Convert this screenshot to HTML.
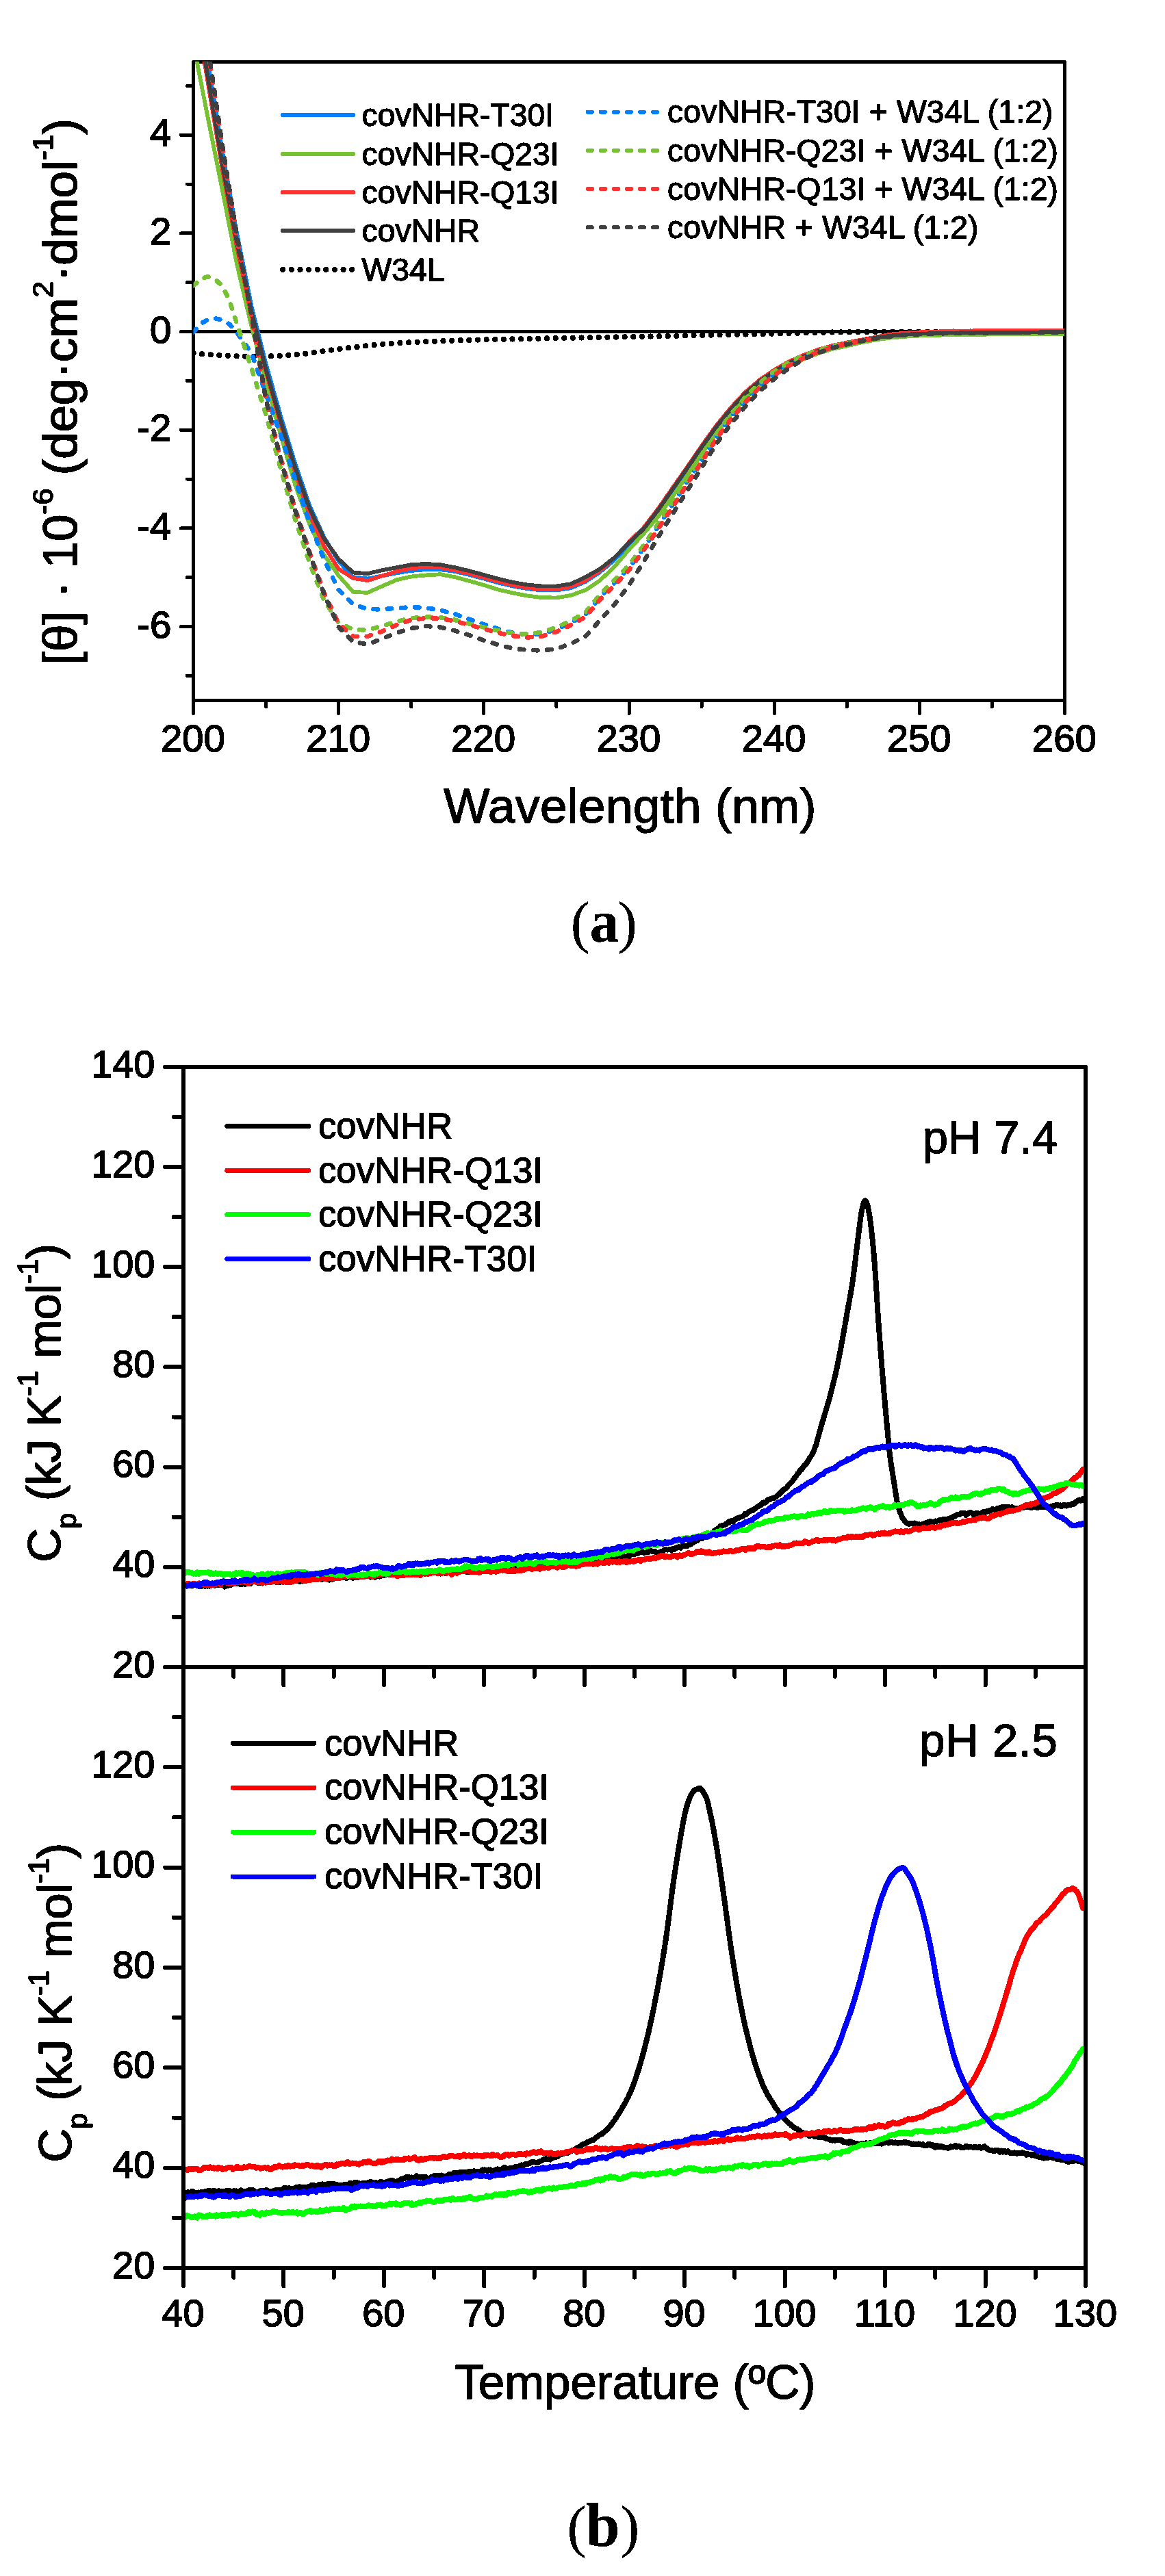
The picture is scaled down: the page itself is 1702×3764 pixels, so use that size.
<!DOCTYPE html>
<html lang="en"><head><meta charset="utf-8"><title>Figure</title>
<style>html,body{margin:0;padding:0;background:#fff}svg{display:block}text{fill:#000}</style>
</head><body>
<svg width="1702" height="3764" viewBox="0 0 1702 3764" shape-rendering="crispEdges">
<rect width="1702" height="3764" fill="#fff"/>
<defs><filter id="hard" x="-5%" y="-5%" width="110%" height="110%" color-interpolation-filters="sRGB"><feComponentTransfer><feFuncA type="discrete" tableValues="0 0 1 1 1"/></feComponentTransfer></filter></defs>
<clipPath id="ca"><rect x="282.5" y="89.8" width="1274.5" height="933.7"/></clipPath>
<rect x="282.5" y="90.4" width="1273.0" height="933.1" fill="none" stroke="#000" stroke-width="5" stroke-linejoin="round"/>
<path d="M282.5 987.4h-9.2M282.5 915.6h-18.2M282.5 843.8h-9.2M282.5 771.9h-18.2M282.5 700.1h-9.2M282.5 628.3h-18.2M282.5 556.4h-9.2M282.5 484.6h-18.2M282.5 412.8h-9.2M282.5 340.9h-18.2M282.5 269.1h-9.2M282.5 197.3h-18.2M282.5 125.5h-9.2M282.5 1023.5v19M388.6 1023.5v9.2M494.7 1023.5v19M600.8 1023.5v9.2M706.8 1023.5v19M812.9 1023.5v9.2M919.0 1023.5v19M1025.1 1023.5v9.2M1131.2 1023.5v19M1237.2 1023.5v9.2M1343.3 1023.5v19M1449.4 1023.5v9.2M1555.5 1023.5v19" stroke="#000" stroke-width="5" stroke-linecap="round" fill="none"/>
<line x1="282.5" y1="484.5" x2="1555.5" y2="484.5" stroke="#000" stroke-width="5"/>
<g clip-path="url(#ca)" fill="none" stroke-linejoin="round">
<path d="M282.5 516.3L303.7 518.0L324.9 519.5L346.1 520.4L367.4 520.7L388.6 520.5L409.8 519.8L431.0 518.3L452.2 516.0L473.4 513.0L494.7 510.0L515.9 507.5L537.1 505.0L558.3 502.9L579.5 501.4L600.8 500.2L622.0 499.2L664.4 497.6L706.8 496.3L791.7 494.5L876.6 493.0L961.4 491.3L1046.3 489.5L1131.2 487.5L1216.0 485.5L1300.9 484.7L1555.5 484.4" stroke="#000" stroke-width="8.2" stroke-linecap="round" stroke-dasharray="0.01 12.62"/>
<path d="M282.5 -31.0L303.7 91.0L324.9 221.0L346.1 341.0L367.4 447.0L388.6 532.0L409.8 607.0L431.0 677.0L452.2 738.5L473.4 785.0L494.7 820.0L515.9 843.2L537.1 845.5L558.3 841.5L579.5 837.2L600.8 833.9L622.0 832.2L643.2 832.2L664.4 834.9L685.6 839.9L706.8 845.5L728.0 851.5L749.3 856.5L770.5 860.2L791.7 862.5L812.9 862.5L834.1 859.2L855.4 849.9L876.6 836.0L897.8 818.0L919.0 796.0L940.2 776.0L961.4 748.5L982.6 718.0L1003.9 687.5L1025.1 656.5L1046.3 627.0L1067.5 601.0L1088.7 578.0L1110.0 560.0L1131.2 545.5L1152.4 533.5L1173.6 524.0L1194.8 516.0L1216.0 510.0L1237.2 505.5L1258.5 497.5L1279.7 493.5L1300.9 490.6L1322.1 488.8L1343.3 487.7L1385.8 486.6L1449.4 485.9L1555.5 485.2" stroke="#0080ff" stroke-width="5.8" stroke-linecap="butt"/>
<path d="M282.5 64.0L303.7 172.0L324.9 278.0L346.1 386.0L367.4 477.0L388.6 558.0L409.8 635.0L431.0 708.0L452.2 766.0L473.4 811.0L494.7 841.0L515.9 864.9L537.1 865.9L558.3 856.5L579.5 847.2L600.8 842.5L622.0 840.5L643.2 839.2L664.4 843.2L685.6 848.9L706.8 854.9L728.0 861.5L749.3 866.5L770.5 870.5L791.7 873.2L812.9 873.5L834.1 869.9L855.4 862.2L876.6 848.0L897.8 828.0L919.0 803.0L940.2 780.0L961.4 755.0L982.6 725.5L1003.9 695.0L1025.1 663.5L1046.3 633.0L1067.5 606.0L1088.7 582.0L1110.0 563.0L1131.2 547.5L1152.4 535.0L1173.6 525.0L1194.8 516.5L1216.0 510.0L1237.2 505.5L1258.5 500.5L1279.7 496.5L1300.9 493.6L1322.1 491.8L1343.3 490.5L1385.8 489.3L1449.4 488.5L1555.5 488.0" stroke="#76c232" stroke-width="5.8" stroke-linecap="butt"/>
<path d="M282.5 -2.0L303.7 120.0L324.9 248.0L346.1 361.0L367.4 461.0L388.6 543.0L409.8 619.0L431.0 690.0L452.2 752.0L473.4 798.0L494.7 831.5L515.9 844.9L537.1 848.2L558.3 841.5L579.5 834.9L600.8 830.5L622.0 828.2L643.2 829.2L664.4 833.2L685.6 838.2L706.8 843.9L728.0 849.9L749.3 855.2L770.5 858.9L791.7 860.9L812.9 860.9L834.1 857.2L855.4 848.2L876.6 834.0L897.8 815.0L919.0 792.0L940.2 771.0L961.4 743.5L982.6 713.0L1003.9 682.5L1025.1 651.5L1046.3 622.0L1067.5 596.0L1088.7 573.0L1110.0 555.0L1131.2 540.5L1152.4 528.5L1173.6 519.0L1194.8 511.0L1216.0 505.0L1237.2 500.5L1258.5 496.5L1279.7 492.5L1300.9 488.6L1322.1 486.6L1343.3 485.4L1385.8 483.9L1449.4 483.0L1555.5 482.6" stroke="#ff3232" stroke-width="5.8" stroke-linecap="butt"/>
<path d="M282.5 -10.0L303.7 112.0L324.9 240.0L346.1 354.0L367.4 456.0L388.6 540.0L409.8 614.0L431.0 683.0L452.2 743.0L473.4 787.0L494.7 817.0L515.9 836.5L537.1 838.2L558.3 833.2L579.5 829.2L600.8 825.2L622.0 823.9L643.2 825.2L664.4 829.2L685.6 834.2L706.8 839.9L728.0 845.9L749.3 850.9L770.5 854.5L791.7 856.5L812.9 856.5L834.1 853.2L855.4 843.2L876.6 831.3L897.8 814.7L919.0 793.0L940.2 773.0L961.4 745.5L982.6 715.0L1003.9 684.5L1025.1 653.5L1046.3 624.0L1067.5 598.0L1088.7 575.0L1110.0 557.0L1131.2 542.5L1152.4 530.5L1173.6 521.0L1194.8 513.0L1216.0 507.0L1237.2 502.5L1258.5 497.5L1279.7 493.5L1300.9 490.6L1322.1 488.8L1343.3 487.7L1385.8 486.6L1449.4 485.9L1555.5 485.2" stroke="#404040" stroke-width="5.8" stroke-linecap="butt"/>
<path d="M282.5 485.9L293.1 473.0L303.7 467.0L314.3 465.3L324.9 467.5L335.5 474.0L346.1 486.0L367.4 516.0L388.6 575.6L409.8 635.0L431.0 700.0L452.2 763.5L473.4 817.5L494.7 862.0L515.9 883.2L537.1 889.8L558.3 890.5L579.5 888.5L600.8 887.2L622.0 888.2L643.2 891.5L664.4 897.2L685.6 904.8L706.8 912.2L728.0 919.1L749.3 924.8L770.5 927.5L791.7 925.8L812.9 919.8L834.1 909.8L855.4 898.2L876.6 872.5L897.8 851.5L919.0 829.5L940.2 801.0L961.4 769.5L982.6 737.5L1003.9 704.0L1025.1 671.5L1046.3 638.3L1067.5 609.5L1088.7 584.5L1110.0 562.9L1131.2 545.6L1152.4 532.1L1173.6 521.6L1194.8 513.2L1216.0 506.7L1237.2 502.2L1258.5 498.5L1279.7 494.5" stroke="#0080ff" stroke-width="6.6" stroke-linecap="round" stroke-dasharray="6.4 13.8"/>
<path d="M282.5 417.6L293.1 408.0L303.7 404.0L314.3 408.0L324.9 418.0L335.5 440.0L346.1 473.0L367.4 538.0L388.6 606.0L409.8 684.0L431.0 758.0L452.2 822.0L473.4 877.0L494.7 909.8L515.9 919.8L537.1 920.5L558.3 914.8L579.5 908.2L600.8 903.2L622.0 901.5L643.2 902.2L664.4 905.8L685.6 911.5L706.8 916.5L728.0 921.5L749.3 925.5L770.5 926.5L791.7 923.8L812.9 916.5L834.1 907.2L855.4 894.8L876.6 868.5L897.8 847.5L919.0 825.5L940.2 797.0L961.4 765.5L982.6 733.5L1003.9 700.0L1025.1 667.5L1046.3 634.3L1067.5 605.5L1088.7 580.5L1110.0 559.4L1131.2 542.6L1152.4 529.6L1173.6 519.6L1194.8 511.7L1216.0 505.7L1237.2 501.7L1258.5 498.5L1279.7 494.5" stroke="#76c232" stroke-width="6.6" stroke-linecap="round" stroke-dasharray="6.4 13.8"/>
<path d="M282.5 -65.0L303.7 71.0L324.9 215.0L346.1 348.0L367.4 463.0L388.6 585.0L409.8 668.0L431.0 743.0L452.2 807.0L473.4 866.0L494.7 911.5L515.9 929.8L537.1 929.8L558.3 922.5L579.5 913.2L600.8 905.8L622.0 903.2L643.2 903.8L664.4 907.5L685.6 913.2L706.8 918.8L728.0 924.8L749.3 929.1L770.5 931.5L791.7 929.8L812.9 923.1L834.1 913.2L855.4 901.5L876.6 876.0L897.8 855.0L919.0 833.0L940.2 804.5L961.4 773.0L982.6 741.0L1003.9 707.5L1025.1 675.0L1046.3 641.8L1067.5 613.0L1088.7 588.0L1110.0 566.0L1131.2 548.2L1152.4 534.3L1173.6 523.4L1194.8 514.5L1216.0 507.6L1237.2 502.6L1258.5 498.5L1279.7 494.5" stroke="#ff3232" stroke-width="6.6" stroke-linecap="round" stroke-dasharray="6.4 13.8"/>
<path d="M282.5 -68.0L303.7 68.0L324.9 212.0L346.1 345.0L367.4 460.0L388.6 584.0L409.8 670.0L431.0 745.0L452.2 809.0L473.4 868.0L494.7 916.0L515.9 938.1L537.1 941.5L558.3 933.1L579.5 924.8L600.8 918.1L622.0 914.8L643.2 916.5L664.4 921.5L685.6 928.1L706.8 935.8L728.0 942.1L749.3 947.5L770.5 949.8L791.7 950.5L812.9 948.1L834.1 940.5L855.4 929.8L876.6 906.3L897.8 883.0L919.0 855.0L940.2 821.0L961.4 785.0L982.6 751.0L1003.9 717.0L1025.1 683.0L1046.3 649.0L1067.5 620.0L1088.7 594.0L1110.0 571.5L1131.2 553.5L1152.4 538.3L1173.6 524.9L1194.8 515.9L1216.0 508.3L1237.2 503.3L1258.5 498.5L1279.7 494.5L1300.9 491.4L1322.1 489.5L1343.3 488.3L1385.8 487.0L1449.4 486.2L1555.5 485.6" stroke="#404040" stroke-width="6.6" stroke-linecap="round" stroke-dasharray="6.4 13.8"/>
</g>
<g filter="url(#hard)" font-family='"Liberation Sans", Arial, sans-serif' font-size="56.3" fill="#000" stroke="#000" stroke-width="1.4">
<text x="250.4" y="213.4" text-anchor="end">4</text>
<text x="250.4" y="357.0" text-anchor="end">2</text>
<text x="250.4" y="500.7" text-anchor="end">0</text>
<text x="250.4" y="644.4" text-anchor="end">-2</text>
<text x="250.4" y="788.0" text-anchor="end">-4</text>
<text x="250.4" y="931.7" text-anchor="end">-6</text>
<text x="281.9" y="1097.6" text-anchor="middle">200</text>
<text x="494.1" y="1097.6" text-anchor="middle">210</text>
<text x="706.2" y="1097.6" text-anchor="middle">220</text>
<text x="918.4" y="1097.6" text-anchor="middle">230</text>
<text x="1130.6" y="1097.6" text-anchor="middle">240</text>
<text x="1342.7" y="1097.6" text-anchor="middle">250</text>
<text x="1554.9" y="1097.6" text-anchor="middle">260</text>
</g>
<text x="648.3" y="1202.4" filter="url(#hard)" font-family='"Liberation Sans", Arial, sans-serif' font-size="71" stroke="#000" stroke-width="1.2" textLength="544" lengthAdjust="spacing" id="xlabA">Wavelength (nm)</text>
<text transform="translate(112.2 971.5) rotate(-90)" filter="url(#hard)" font-family='"Liberation Sans", Arial, sans-serif' font-size="71" stroke="#000" stroke-width="1.2" textLength="798.5" lengthAdjust="spacing" id="ylabA">[θ] · 10<tspan font-size="43" dy="-35">-6</tspan><tspan dy="35"> (deg·cm</tspan><tspan font-size="43" dy="-35">2</tspan><tspan dy="35">·dmol</tspan><tspan font-size="43" dy="-35">-1</tspan><tspan dy="35">)</tspan></text>
<g filter="url(#hard)" font-family='"Liberation Sans", Arial, sans-serif' font-size="46.3" fill="#000" stroke="#000" stroke-width="1.1">
<line x1="413.1" y1="167.9" x2="515.9" y2="167.9" stroke="#0080ff" stroke-width="6.2" stroke-linecap="round" stroke-opacity="1"/>
<text x="528.6" y="183.5">covNHR-T30I</text>
<line x1="413.1" y1="224.9" x2="515.9" y2="224.9" stroke="#76c232" stroke-width="6.2" stroke-linecap="round" stroke-opacity="1"/>
<text x="528.6" y="240.5">covNHR-Q23I</text>
<line x1="413.1" y1="280.9" x2="515.9" y2="280.9" stroke="#ff3232" stroke-width="6.2" stroke-linecap="round" stroke-opacity="1"/>
<text x="528.6" y="296.5">covNHR-Q13I</text>
<line x1="413.1" y1="337.0" x2="515.9" y2="337.0" stroke="#404040" stroke-width="6.2" stroke-linecap="round" stroke-opacity="1"/>
<text x="528.6" y="352.6">covNHR</text>
<line x1="413.2" y1="393.9" x2="515" y2="393.9" stroke="#000" stroke-width="8.4" stroke-linecap="round" stroke-dasharray="0.01 12.62"/>
<text x="528.6" y="409.5">W34L</text>
<line x1="858.9" y1="163.6" x2="962" y2="163.6" stroke="#0080ff" stroke-width="6.2" stroke-linecap="round" stroke-dasharray="5.8 13.25"/>
<text x="975" y="179.3" textLength="563.5" lengthAdjust="spacing" id="l2r0">covNHR-T30I + W34L (1:2)</text>
<line x1="858.9" y1="219.8" x2="962" y2="219.8" stroke="#76c232" stroke-width="6.2" stroke-linecap="round" stroke-dasharray="5.8 13.25"/>
<text x="975" y="235.5" textLength="571" lengthAdjust="spacing" id="l2r1">covNHR-Q23I + W34L (1:2)</text>
<line x1="858.9" y1="276.0" x2="962" y2="276.0" stroke="#ff3232" stroke-width="6.2" stroke-linecap="round" stroke-dasharray="5.8 13.25"/>
<text x="975" y="291.7" textLength="571" lengthAdjust="spacing" id="l2r2">covNHR-Q13I + W34L (1:2)</text>
<line x1="858.9" y1="332.3" x2="962" y2="332.3" stroke="#404040" stroke-width="6.2" stroke-linecap="round" stroke-dasharray="5.8 13.25"/>
<text x="975" y="348.0" textLength="454.5" lengthAdjust="spacing" id="l2r3">covNHR + W34L (1:2)</text>
</g>
<text y="1376.2" filter="url(#hard)" font-family='"Liberation Serif", "Times New Roman", serif' id="capA"><tspan x="833.7" font-size="85" dy="-0.4">(</tspan><tspan x="861.5" font-size="86" dy="0.4" font-weight="bold">a</tspan><tspan x="902.5" font-size="85" dy="-0.4">)</tspan></text>
<clipPath id="cb1"><rect x="268.0" y="1558.9" width="1318.0" height="877.0"/></clipPath>
<clipPath id="cb2"><rect x="268.0" y="2435.9" width="1318.0" height="878.1"/></clipPath>
<g clip-path="url(#cb1)" fill="none" stroke-linejoin="round" stroke-linecap="round" stroke-width="8">
<path d="M268.2 2318.1L269.7 2317.2L271.2 2317.0L272.7 2317.6L274.2 2316.1L275.7 2315.8L277.2 2316.6L278.7 2316.2L280.2 2317.5L281.7 2316.4L283.2 2316.5L284.7 2314.2L286.2 2314.3L287.7 2315.4L289.2 2316.0L290.7 2318.0L292.2 2317.7L293.7 2318.1L295.2 2317.0L296.7 2315.3L298.2 2317.2L299.7 2317.7L301.2 2317.1L302.7 2317.6L304.2 2316.9L305.7 2317.7L307.2 2316.8L308.7 2315.6L310.2 2315.7L311.7 2316.0L313.2 2316.7L314.7 2316.5L316.2 2316.0L317.7 2315.9L319.2 2315.9L320.7 2315.4L322.2 2316.2L323.7 2315.7L325.2 2316.0L326.7 2315.9L328.2 2318.5L329.7 2316.7L331.2 2316.5L332.7 2317.0L334.2 2316.6L335.7 2314.6L337.2 2315.9L338.7 2314.7L340.2 2314.6L341.7 2313.7L343.2 2313.2L344.7 2313.8L346.2 2313.6L347.7 2314.1L349.2 2314.1L350.7 2314.9L352.2 2314.9L353.7 2314.7L355.2 2314.5L356.7 2314.4L358.2 2315.0L359.7 2313.2L361.2 2312.7L362.7 2311.5L364.2 2313.1L365.7 2314.0L367.2 2312.6L368.7 2311.5L370.2 2310.1L371.7 2310.2L373.2 2310.1L374.7 2310.1L376.2 2312.7L377.7 2312.8L379.2 2313.1L380.7 2312.0L382.2 2311.9L383.7 2312.1L385.2 2310.7L386.7 2311.8L388.2 2312.1L389.7 2310.4L391.2 2311.3L392.7 2311.6L394.2 2309.5L395.7 2310.5L397.2 2309.9L398.7 2309.4L400.2 2310.6L401.7 2311.3L403.2 2311.7L404.7 2311.9L406.2 2311.8L407.7 2311.1L409.2 2312.1L410.7 2309.9L412.2 2311.4L413.7 2310.6L415.2 2311.4L416.7 2310.0L418.2 2311.6L419.7 2311.4L421.2 2310.4L422.7 2309.0L424.2 2309.0L425.7 2308.8L427.2 2308.5L428.7 2309.2L430.2 2307.6L431.7 2308.3L433.2 2308.3L434.7 2309.4L436.2 2309.6L437.7 2311.1L439.2 2310.0L440.7 2310.0L442.2 2310.5L443.7 2308.3L445.2 2308.9L446.7 2307.7L448.2 2307.5L449.7 2307.9L451.2 2307.8L452.7 2307.1L454.2 2307.3L455.7 2307.4L457.2 2308.3L458.7 2306.4L460.2 2306.2L461.7 2305.3L463.2 2305.0L464.7 2306.1L466.2 2306.8L467.7 2307.1L469.2 2307.8L470.7 2307.9L472.2 2307.2L473.7 2306.1L475.2 2306.7L476.7 2307.0L478.2 2307.8L479.7 2307.9L481.2 2308.6L482.7 2308.1L484.2 2307.3L485.7 2307.8L487.2 2306.6L488.7 2306.1L490.2 2304.2L491.7 2304.7L493.2 2303.8L494.7 2303.7L496.2 2304.9L497.7 2305.0L499.2 2304.7L500.7 2305.1L502.2 2304.4L503.7 2304.8L505.2 2305.9L506.7 2305.8L508.2 2303.7L509.7 2303.2L511.2 2303.4L512.7 2304.6L514.2 2304.6L515.7 2305.7L517.2 2304.1L518.7 2304.7L520.2 2304.7L521.7 2303.8L523.2 2305.1L524.7 2304.2L526.2 2304.3L527.7 2304.3L529.2 2300.9L530.7 2301.9L532.2 2302.1L533.7 2301.9L535.2 2302.7L536.7 2302.7L538.2 2303.2L539.7 2302.8L541.2 2304.4L542.7 2302.2L544.2 2302.6L545.7 2303.6L547.2 2304.7L548.7 2302.9L550.2 2303.7L551.7 2303.1L553.2 2303.4L554.7 2303.6L556.2 2302.7L557.7 2301.3L559.2 2301.5L560.7 2301.6L562.2 2301.6L563.7 2301.3L565.2 2300.3L566.7 2300.4L568.2 2299.5L569.7 2301.2L571.2 2301.0L572.7 2301.1L574.2 2300.4L575.7 2301.4L577.2 2301.1L578.7 2300.9L580.2 2300.4L581.7 2300.9L583.2 2299.3L584.7 2298.2L586.2 2299.3L587.7 2298.3L589.2 2298.9L590.7 2299.1L592.2 2297.9L593.7 2299.5L595.2 2299.8L596.7 2300.0L598.2 2299.7L599.7 2299.7L601.2 2300.5L602.7 2299.5L604.2 2299.6L605.7 2298.9L607.2 2300.3L608.7 2299.0L610.2 2299.2L611.7 2299.9L613.2 2299.9L614.7 2298.5L616.2 2298.6L617.7 2296.4L619.2 2297.3L620.7 2297.5L622.2 2296.6L623.7 2297.6L625.2 2298.5L626.7 2298.0L628.2 2297.2L629.7 2296.8L631.2 2297.2L632.7 2298.4L634.2 2297.8L635.7 2298.0L637.2 2296.5L638.7 2296.3L640.2 2298.2L641.7 2298.5L643.2 2299.5L644.7 2297.7L646.2 2298.7L647.7 2298.2L649.2 2298.5L650.7 2298.7L652.2 2298.8L653.7 2298.4L655.2 2297.1L656.7 2298.3L658.2 2298.8L659.7 2299.0L661.2 2297.9L662.7 2296.8L664.2 2297.7L665.7 2297.4L667.2 2296.6L668.7 2296.6L670.2 2295.1L671.7 2294.3L673.2 2295.6L674.7 2294.4L676.2 2293.6L677.7 2296.0L679.2 2295.9L680.7 2296.7L682.2 2296.6L683.7 2296.8L685.2 2296.5L686.7 2296.2L688.2 2295.4L689.7 2294.5L691.2 2294.7L692.7 2294.0L694.2 2295.6L695.7 2296.1L697.2 2295.1L698.7 2295.5L700.2 2294.7L701.7 2293.1L703.2 2294.8L704.7 2294.3L706.2 2295.0L707.7 2294.6L709.2 2294.4L710.7 2293.6L712.2 2291.6L713.7 2290.6L715.2 2292.4L716.7 2292.2L718.2 2292.1L719.7 2293.5L721.2 2292.9L722.7 2293.1L724.2 2293.4L725.7 2291.6L727.2 2291.2L728.7 2291.0L730.2 2290.9L731.7 2289.7L733.2 2288.6L734.7 2288.9L736.2 2288.1L737.7 2288.7L739.2 2287.1L740.7 2287.4L742.2 2288.5L743.7 2288.8L745.2 2287.8L746.7 2287.6L748.2 2286.3L749.7 2287.9L751.2 2288.1L752.7 2287.1L754.2 2288.1L755.7 2288.6L757.2 2289.8L758.7 2290.0L760.2 2289.4L761.7 2290.8L763.2 2288.6L764.7 2288.9L766.2 2288.1L767.7 2287.4L769.2 2287.0L770.7 2287.2L772.2 2286.4L773.7 2286.4L775.2 2287.1L776.7 2285.1L778.2 2286.6L779.7 2287.3L781.2 2287.4L782.7 2287.3L784.2 2287.7L785.7 2287.3L787.2 2287.4L788.7 2287.1L790.2 2287.3L791.7 2286.8L793.2 2285.0L794.7 2286.5L796.2 2285.6L797.7 2285.7L799.2 2288.4L800.7 2288.0L802.2 2286.4L803.7 2286.2L805.2 2286.0L806.7 2285.3L808.2 2283.9L809.7 2284.4L811.2 2284.3L812.7 2284.2L814.2 2285.4L815.7 2285.0L817.2 2282.8L818.7 2284.3L820.2 2284.3L821.7 2283.4L823.2 2284.1L824.7 2284.9L826.2 2282.9L827.7 2283.6L829.2 2283.3L830.7 2282.7L832.2 2282.7L833.7 2281.6L835.2 2282.4L836.7 2283.9L838.2 2283.4L839.7 2283.1L841.2 2282.2L842.7 2281.5L844.2 2280.5L845.7 2281.6L847.2 2282.9L848.7 2283.7L850.2 2283.4L851.7 2282.7L853.2 2282.9L854.7 2282.1L856.2 2281.6L857.7 2281.5L859.2 2282.1L860.7 2284.2L862.2 2282.6L863.7 2282.2L865.2 2281.8L866.7 2281.3L868.2 2282.0L869.7 2281.5L871.2 2281.3L872.7 2281.2L874.2 2281.3L875.7 2279.9L877.2 2279.2L878.7 2279.0L880.2 2279.5L881.7 2278.9L883.2 2278.8L884.7 2278.6L886.2 2279.3L887.7 2277.5L889.2 2277.5L890.7 2276.9L892.2 2275.7L893.7 2275.3L895.2 2275.3L896.7 2274.3L898.2 2274.9L899.7 2274.5L901.2 2275.1L902.7 2275.0L904.2 2275.2L905.7 2275.1L907.2 2274.6L908.7 2274.6L910.2 2274.5L911.7 2274.1L913.2 2274.9L914.7 2274.4L916.2 2274.2L917.7 2273.0L919.2 2274.0L920.7 2272.2L922.2 2271.3L923.7 2270.4L925.2 2270.7L926.7 2271.5L928.2 2270.5L929.7 2269.9L931.2 2270.0L932.7 2268.9L934.2 2268.5L935.7 2267.9L937.2 2266.5L938.7 2268.4L940.2 2268.8L941.7 2268.6L943.2 2268.5L944.7 2267.6L946.2 2268.4L947.7 2267.6L949.2 2266.1L950.7 2265.7L952.2 2266.7L953.7 2266.6L955.2 2267.2L956.7 2266.8L958.2 2267.9L959.7 2268.6L961.2 2268.6L962.7 2268.4L964.2 2267.9L965.7 2266.9L967.2 2267.4L968.7 2266.0L970.2 2264.5L971.7 2264.1L973.2 2264.1L974.7 2264.5L976.2 2264.5L977.7 2264.0L979.2 2264.3L980.7 2265.1L982.2 2263.3L983.7 2264.3L985.2 2263.9L986.7 2262.0L988.2 2261.8L989.7 2260.8L991.2 2260.2L992.7 2261.4L994.2 2261.8L995.7 2260.3L997.2 2259.0L998.7 2258.1L1000.2 2259.2L1001.7 2259.2L1003.2 2259.4L1004.7 2258.5L1006.2 2256.5L1007.7 2256.9L1009.2 2256.6L1010.7 2254.7L1012.2 2254.6L1013.7 2253.3L1015.2 2252.2L1016.7 2251.6L1018.2 2251.5L1019.7 2250.4L1021.2 2248.6L1022.7 2247.7L1024.2 2246.9L1025.7 2248.1L1027.2 2246.9L1028.7 2246.3L1030.2 2245.6L1031.7 2245.1L1033.2 2244.7L1034.7 2244.3L1036.2 2243.3L1037.7 2242.2L1039.2 2241.0L1040.7 2239.8L1042.2 2239.0L1043.7 2236.6L1045.2 2235.7L1046.7 2234.6L1048.2 2234.0L1049.7 2232.6L1051.2 2231.6L1052.7 2229.8L1054.2 2229.6L1055.7 2228.6L1057.2 2228.6L1058.7 2228.1L1060.2 2227.3L1061.7 2225.9L1063.2 2225.3L1064.7 2223.5L1066.2 2223.2L1067.7 2223.6L1069.2 2222.1L1070.7 2223.3L1072.2 2222.1L1073.7 2220.2L1075.2 2220.0L1076.7 2218.6L1078.2 2217.9L1079.7 2217.8L1081.2 2216.6L1082.7 2216.5L1084.2 2215.6L1085.7 2215.5L1087.2 2214.2L1088.7 2211.8L1090.2 2212.9L1091.7 2211.5L1093.2 2210.0L1094.7 2208.6L1096.2 2208.0L1097.7 2207.0L1099.2 2206.4L1100.7 2206.7L1102.2 2205.0L1103.7 2204.1L1105.2 2203.2L1106.7 2201.6L1108.2 2201.2L1109.7 2199.8L1111.2 2199.3L1112.7 2197.7L1114.2 2196.0L1115.7 2195.5L1117.2 2195.7L1118.7 2195.4L1120.2 2193.6L1121.7 2191.3L1123.2 2191.0L1124.7 2191.3L1126.2 2189.8L1127.7 2189.5L1129.2 2189.2L1130.7 2189.0L1132.2 2188.2L1133.7 2187.1L1135.2 2186.2L1136.7 2184.0L1138.2 2183.5L1139.7 2181.9L1141.2 2180.1L1142.7 2179.0L1144.2 2176.9L1145.7 2176.1L1147.2 2175.6L1148.7 2174.4L1150.2 2172.4L1151.7 2170.6L1153.2 2169.1L1154.7 2167.6L1156.2 2166.0L1157.7 2164.2L1159.2 2162.1L1160.7 2159.9L1162.2 2158.0L1163.7 2156.1L1165.2 2153.4L1166.7 2152.4L1168.2 2149.4L1169.7 2147.8L1171.2 2147.3L1172.7 2144.7L1174.2 2142.3L1175.7 2140.8L1177.2 2139.6L1178.7 2137.6L1180.2 2135.1L1181.7 2132.6L1183.2 2130.1L1184.7 2127.9L1186.2 2125.9L1187.7 2122.3L1189.2 2119.3L1190.7 2115.1L1192.2 2111.2L1193.7 2105.9L1195.2 2100.4L1196.7 2094.6L1198.2 2089.3L1199.7 2084.0L1201.2 2078.6L1202.7 2074.4L1204.2 2068.9L1205.7 2064.0L1207.2 2058.7L1208.7 2053.5L1210.2 2049.0L1211.7 2043.5L1213.2 2037.7L1214.7 2031.9L1216.2 2026.2L1217.7 2020.1L1219.2 2013.7L1220.7 2007.2L1222.2 2000.9L1223.7 1993.9L1225.2 1986.4L1226.7 1978.5L1228.2 1970.8L1229.7 1962.8L1231.2 1954.5L1232.7 1946.5L1234.2 1937.8L1235.7 1929.2L1237.2 1920.6L1238.7 1912.3L1240.2 1904.0L1241.7 1896.0L1243.2 1887.6L1244.7 1878.6L1246.2 1868.5L1247.7 1856.9L1249.2 1845.0L1250.7 1832.5L1252.2 1820.0L1253.7 1807.9L1255.2 1796.0L1256.7 1783.8L1258.2 1773.2L1259.7 1765.8L1261.2 1759.5L1262.7 1754.8L1264.2 1754.4L1265.7 1755.9L1267.2 1760.5L1268.7 1767.3L1270.2 1774.8L1271.7 1785.5L1273.2 1798.2L1274.7 1811.9L1276.2 1827.8L1277.7 1845.5L1279.2 1866.0L1280.7 1890.0L1282.2 1914.1L1283.7 1935.6L1285.2 1956.1L1286.7 1975.9L1288.2 1995.0L1289.7 2013.2L1291.2 2031.1L1292.7 2048.3L1294.2 2065.0L1295.7 2081.4L1297.2 2097.7L1298.7 2113.9L1300.2 2127.4L1301.7 2138.4L1303.2 2148.0L1304.7 2157.2L1306.2 2166.4L1307.7 2176.1L1309.2 2185.9L1310.7 2194.6L1312.2 2200.6L1313.7 2205.7L1315.2 2210.5L1316.7 2214.1L1318.2 2217.6L1319.7 2219.8L1321.2 2221.3L1322.7 2223.7L1324.2 2225.1L1325.7 2225.8L1327.2 2226.9L1328.7 2226.6L1330.2 2225.7L1331.7 2226.0L1333.2 2226.3L1334.7 2226.9L1336.2 2225.5L1337.7 2226.2L1339.2 2227.2L1340.7 2227.4L1342.2 2227.8L1343.7 2227.5L1345.2 2227.6L1346.7 2227.4L1348.2 2227.2L1349.7 2227.6L1351.2 2226.6L1352.7 2224.9L1354.2 2225.0L1355.7 2224.1L1357.2 2224.5L1358.7 2223.2L1360.2 2223.3L1361.7 2225.6L1363.2 2224.9L1364.7 2223.9L1366.2 2222.5L1367.7 2223.4L1369.2 2222.5L1370.7 2222.1L1372.2 2221.1L1373.7 2221.4L1375.2 2220.6L1376.7 2220.5L1378.2 2220.4L1379.7 2220.7L1381.2 2220.1L1382.7 2219.8L1384.2 2219.5L1385.7 2219.1L1387.2 2218.8L1388.7 2218.3L1390.2 2218.5L1391.7 2216.4L1393.2 2215.8L1394.7 2215.7L1396.2 2214.2L1397.7 2213.7L1399.2 2212.5L1400.7 2212.6L1402.2 2213.1L1403.7 2211.1L1405.2 2211.4L1406.7 2211.4L1408.2 2210.9L1409.7 2211.4L1411.2 2213.8L1412.7 2212.0L1414.2 2211.9L1415.7 2210.6L1417.2 2210.0L1418.7 2210.3L1420.2 2211.2L1421.7 2212.0L1423.2 2213.8L1424.7 2213.4L1426.2 2211.1L1427.7 2212.0L1429.2 2211.4L1430.7 2211.9L1432.2 2212.4L1433.7 2211.1L1435.2 2210.1L1436.7 2209.0L1438.2 2209.4L1439.7 2209.9L1441.2 2208.2L1442.7 2208.4L1444.2 2207.9L1445.7 2207.0L1447.2 2206.9L1448.7 2206.3L1450.2 2205.1L1451.7 2205.9L1453.2 2206.4L1454.7 2206.1L1456.2 2204.6L1457.7 2203.8L1459.2 2204.6L1460.7 2203.0L1462.2 2202.5L1463.7 2202.0L1465.2 2203.5L1466.7 2201.8L1468.2 2202.6L1469.7 2203.1L1471.2 2201.9L1472.7 2202.0L1474.2 2202.2L1475.7 2203.3L1477.2 2202.7L1478.7 2202.2L1480.2 2203.3L1481.7 2203.5L1483.2 2203.5L1484.7 2204.2L1486.2 2204.2L1487.7 2204.0L1489.2 2203.5L1490.7 2203.0L1492.2 2202.5L1493.7 2202.5L1495.2 2203.0L1496.7 2202.4L1498.2 2202.2L1499.7 2202.5L1501.2 2202.0L1502.7 2201.9L1504.2 2202.1L1505.7 2202.9L1507.2 2203.1L1508.7 2202.1L1510.2 2201.5L1511.7 2201.2L1513.2 2202.5L1514.7 2202.9L1516.2 2202.9L1517.7 2201.1L1519.2 2201.2L1520.7 2201.8L1522.2 2202.3L1523.7 2202.2L1525.2 2202.2L1526.7 2201.5L1528.2 2200.4L1529.7 2201.9L1531.2 2201.5L1532.7 2201.5L1534.2 2202.1L1535.7 2201.1L1537.2 2201.6L1538.7 2200.2L1540.2 2201.0L1541.7 2199.8L1543.2 2199.1L1544.7 2198.8L1546.2 2200.3L1547.7 2199.8L1549.2 2199.4L1550.7 2201.2L1552.2 2199.8L1553.7 2199.1L1555.2 2199.6L1556.7 2199.5L1558.2 2200.5L1559.7 2198.9L1561.2 2199.2L1562.7 2198.6L1564.2 2199.0L1565.7 2197.4L1567.2 2197.5L1568.7 2197.7L1570.2 2196.2L1571.7 2194.7L1573.2 2193.5L1574.7 2192.4L1576.2 2192.7L1577.7 2191.5L1579.2 2192.7L1580.7 2192.3L1582.2 2190.3" stroke="#000"/>
<path d="M268.2 2316.5L269.7 2314.7L271.2 2314.6L272.7 2314.5L274.2 2315.2L275.7 2313.7L277.2 2314.3L278.7 2314.9L280.2 2314.7L281.7 2313.9L283.2 2313.5L284.7 2314.5L286.2 2315.4L287.7 2315.8L289.2 2315.5L290.7 2313.5L292.2 2314.8L293.7 2315.0L295.2 2314.6L296.7 2315.2L298.2 2315.4L299.7 2316.3L301.2 2315.8L302.7 2316.1L304.2 2315.0L305.7 2315.8L307.2 2315.3L308.7 2316.9L310.2 2315.6L311.7 2316.2L313.2 2315.3L314.7 2315.2L316.2 2313.1L317.7 2314.0L319.2 2313.7L320.7 2313.3L322.2 2315.5L323.7 2313.1L325.2 2312.4L326.7 2311.0L328.2 2312.4L329.7 2311.1L331.2 2311.1L332.7 2313.2L334.2 2313.7L335.7 2313.8L337.2 2313.6L338.7 2312.7L340.2 2314.1L341.7 2314.1L343.2 2312.0L344.7 2312.6L346.2 2311.1L347.7 2312.4L349.2 2311.1L350.7 2312.1L352.2 2311.7L353.7 2310.3L355.2 2310.3L356.7 2310.9L358.2 2311.9L359.7 2311.8L361.2 2313.1L362.7 2314.3L364.2 2312.3L365.7 2311.0L367.2 2310.6L368.7 2310.8L370.2 2311.5L371.7 2310.9L373.2 2311.5L374.7 2311.6L376.2 2311.9L377.7 2312.0L379.2 2311.8L380.7 2310.3L382.2 2311.8L383.7 2313.4L385.2 2311.6L386.7 2311.8L388.2 2312.7L389.7 2312.0L391.2 2312.3L392.7 2311.9L394.2 2312.1L395.7 2312.2L397.2 2310.5L398.7 2308.9L400.2 2309.7L401.7 2310.2L403.2 2310.8L404.7 2311.3L406.2 2310.3L407.7 2310.2L409.2 2309.6L410.7 2309.4L412.2 2309.3L413.7 2311.6L415.2 2310.3L416.7 2311.2L418.2 2311.9L419.7 2311.9L421.2 2312.2L422.7 2311.5L424.2 2311.9L425.7 2311.5L427.2 2311.5L428.7 2310.4L430.2 2309.9L431.7 2309.2L433.2 2310.0L434.7 2308.4L436.2 2308.0L437.7 2307.5L439.2 2306.3L440.7 2308.0L442.2 2309.3L443.7 2309.6L445.2 2309.8L446.7 2310.3L448.2 2309.7L449.7 2307.7L451.2 2308.2L452.7 2309.4L454.2 2308.7L455.7 2307.9L457.2 2307.1L458.7 2307.4L460.2 2307.9L461.7 2307.0L463.2 2308.3L464.7 2307.1L466.2 2307.0L467.7 2306.6L469.2 2305.4L470.7 2306.0L472.2 2305.6L473.7 2306.4L475.2 2307.1L476.7 2307.5L478.2 2306.4L479.7 2305.6L481.2 2305.1L482.7 2306.3L484.2 2306.8L485.7 2306.6L487.2 2305.9L488.7 2306.5L490.2 2305.9L491.7 2304.7L493.2 2305.7L494.7 2305.6L496.2 2305.9L497.7 2304.2L499.2 2303.8L500.7 2303.1L502.2 2301.5L503.7 2303.6L505.2 2304.1L506.7 2302.4L508.2 2302.6L509.7 2302.8L511.2 2302.7L512.7 2303.5L514.2 2303.1L515.7 2302.1L517.2 2302.9L518.7 2303.0L520.2 2302.5L521.7 2304.2L523.2 2303.1L524.7 2302.5L526.2 2303.1L527.7 2304.2L529.2 2303.4L530.7 2303.7L532.2 2303.8L533.7 2302.9L535.2 2303.1L536.7 2303.1L538.2 2301.6L539.7 2301.8L541.2 2302.0L542.7 2302.8L544.2 2302.1L545.7 2303.7L547.2 2301.9L548.7 2301.6L550.2 2302.2L551.7 2301.9L553.2 2300.7L554.7 2300.6L556.2 2300.4L557.7 2300.6L559.2 2300.5L560.7 2300.0L562.2 2300.1L563.7 2300.2L565.2 2300.1L566.7 2300.4L568.2 2300.8L569.7 2299.6L571.2 2299.9L572.7 2299.7L574.2 2301.2L575.7 2300.5L577.2 2301.0L578.7 2301.9L580.2 2303.2L581.7 2302.7L583.2 2302.5L584.7 2301.6L586.2 2301.3L587.7 2302.0L589.2 2301.5L590.7 2301.6L592.2 2301.0L593.7 2300.0L595.2 2299.6L596.7 2301.3L598.2 2300.4L599.7 2301.2L601.2 2300.7L602.7 2300.6L604.2 2300.2L605.7 2301.0L607.2 2300.9L608.7 2299.9L610.2 2300.7L611.7 2300.4L613.2 2301.8L614.7 2301.7L616.2 2299.6L617.7 2298.4L619.2 2299.4L620.7 2300.0L622.2 2298.8L623.7 2299.1L625.2 2299.8L626.7 2299.5L628.2 2298.9L629.7 2298.8L631.2 2298.0L632.7 2297.2L634.2 2296.9L635.7 2297.2L637.2 2298.2L638.7 2298.8L640.2 2299.2L641.7 2297.8L643.2 2298.3L644.7 2299.0L646.2 2297.8L647.7 2297.0L649.2 2296.8L650.7 2297.8L652.2 2298.8L653.7 2298.3L655.2 2297.7L656.7 2298.2L658.2 2297.3L659.7 2300.9L661.2 2299.1L662.7 2297.6L664.2 2297.3L665.7 2297.2L667.2 2298.6L668.7 2296.9L670.2 2297.3L671.7 2296.2L673.2 2296.3L674.7 2296.5L676.2 2295.6L677.7 2295.5L679.2 2295.7L680.7 2295.0L682.2 2295.4L683.7 2295.0L685.2 2295.6L686.7 2296.0L688.2 2297.2L689.7 2297.0L691.2 2295.3L692.7 2296.4L694.2 2296.9L695.7 2297.0L697.2 2296.7L698.7 2296.1L700.2 2297.9L701.7 2296.8L703.2 2296.6L704.7 2296.1L706.2 2295.8L707.7 2296.4L709.2 2295.4L710.7 2295.6L712.2 2295.9L713.7 2295.9L715.2 2295.5L716.7 2297.1L718.2 2296.5L719.7 2295.0L721.2 2296.1L722.7 2296.1L724.2 2296.8L725.7 2296.5L727.2 2296.2L728.7 2295.0L730.2 2294.0L731.7 2293.7L733.2 2294.6L734.7 2294.6L736.2 2294.0L737.7 2293.8L739.2 2295.0L740.7 2295.3L742.2 2296.4L743.7 2295.2L745.2 2295.8L746.7 2294.9L748.2 2295.7L749.7 2293.9L751.2 2296.0L752.7 2295.7L754.2 2294.7L755.7 2294.4L757.2 2295.2L758.7 2294.3L760.2 2294.9L761.7 2294.8L763.2 2293.0L764.7 2294.0L766.2 2293.4L767.7 2292.2L769.2 2292.2L770.7 2292.5L772.2 2292.3L773.7 2292.4L775.2 2292.4L776.7 2293.1L778.2 2291.2L779.7 2291.5L781.2 2291.7L782.7 2292.4L784.2 2290.8L785.7 2291.6L787.2 2290.8L788.7 2292.8L790.2 2290.9L791.7 2291.4L793.2 2291.4L794.7 2291.4L796.2 2290.0L797.7 2290.1L799.2 2289.8L800.7 2291.0L802.2 2290.0L803.7 2289.7L805.2 2288.6L806.7 2289.5L808.2 2289.3L809.7 2288.9L811.2 2289.4L812.7 2288.8L814.2 2290.7L815.7 2289.7L817.2 2289.2L818.7 2289.4L820.2 2289.1L821.7 2290.1L823.2 2290.3L824.7 2289.4L826.2 2289.2L827.7 2288.3L829.2 2286.8L830.7 2287.0L832.2 2286.6L833.7 2287.8L835.2 2286.6L836.7 2288.1L838.2 2287.4L839.7 2288.1L841.2 2288.8L842.7 2288.1L844.2 2288.5L845.7 2288.4L847.2 2287.2L848.7 2286.2L850.2 2286.0L851.7 2286.4L853.2 2285.2L854.7 2285.1L856.2 2285.2L857.7 2285.1L859.2 2284.8L860.7 2284.6L862.2 2284.7L863.7 2283.8L865.2 2284.4L866.7 2285.7L868.2 2284.6L869.7 2285.3L871.2 2284.9L872.7 2285.6L874.2 2284.4L875.7 2282.8L877.2 2282.0L878.7 2283.0L880.2 2283.3L881.7 2284.2L883.2 2283.9L884.7 2283.3L886.2 2282.1L887.7 2282.9L889.2 2283.7L890.7 2281.4L892.2 2282.1L893.7 2282.1L895.2 2282.6L896.7 2281.7L898.2 2282.4L899.7 2282.4L901.2 2282.9L902.7 2282.3L904.2 2281.2L905.7 2282.8L907.2 2282.4L908.7 2281.9L910.2 2282.2L911.7 2280.8L913.2 2281.6L914.7 2283.0L916.2 2280.8L917.7 2282.0L919.2 2282.5L920.7 2281.8L922.2 2281.4L923.7 2281.0L925.2 2281.9L926.7 2280.0L928.2 2280.8L929.7 2280.2L931.2 2280.3L932.7 2279.1L934.2 2279.2L935.7 2281.1L937.2 2279.1L938.7 2278.9L940.2 2278.7L941.7 2278.7L943.2 2278.1L944.7 2277.4L946.2 2276.7L947.7 2278.0L949.2 2277.0L950.7 2277.8L952.2 2276.6L953.7 2276.7L955.2 2276.1L956.7 2276.5L958.2 2276.8L959.7 2276.0L961.2 2276.3L962.7 2274.6L964.2 2273.8L965.7 2273.2L967.2 2274.1L968.7 2272.9L970.2 2272.8L971.7 2275.2L973.2 2274.4L974.7 2274.4L976.2 2274.7L977.7 2274.6L979.2 2274.5L980.7 2274.7L982.2 2273.0L983.7 2273.8L985.2 2273.4L986.7 2272.8L988.2 2273.6L989.7 2275.4L991.2 2273.1L992.7 2272.4L994.2 2272.9L995.7 2274.1L997.2 2273.0L998.7 2272.2L1000.2 2271.7L1001.7 2271.4L1003.2 2270.7L1004.7 2269.4L1006.2 2269.2L1007.7 2269.8L1009.2 2270.9L1010.7 2271.2L1012.2 2270.0L1013.7 2269.6L1015.2 2269.4L1016.7 2268.8L1018.2 2267.1L1019.7 2268.2L1021.2 2267.2L1022.7 2267.8L1024.2 2266.3L1025.7 2267.8L1027.2 2266.9L1028.7 2267.7L1030.2 2268.9L1031.7 2268.4L1033.2 2268.7L1034.7 2269.3L1036.2 2267.4L1037.7 2268.6L1039.2 2269.7L1040.7 2270.3L1042.2 2269.2L1043.7 2269.5L1045.2 2269.0L1046.7 2268.6L1048.2 2268.5L1049.7 2268.3L1051.2 2268.6L1052.7 2267.7L1054.2 2268.0L1055.7 2267.4L1057.2 2266.4L1058.7 2266.8L1060.2 2267.0L1061.7 2266.6L1063.2 2267.1L1064.7 2266.8L1066.2 2266.1L1067.7 2265.6L1069.2 2266.6L1070.7 2266.9L1072.2 2266.6L1073.7 2266.2L1075.2 2266.0L1076.7 2264.6L1078.2 2265.0L1079.7 2265.6L1081.2 2264.5L1082.7 2263.3L1084.2 2263.2L1085.7 2262.9L1087.2 2264.2L1088.7 2264.9L1090.2 2262.6L1091.7 2262.4L1093.2 2262.9L1094.7 2262.3L1096.2 2262.1L1097.7 2263.3L1099.2 2262.1L1100.7 2263.2L1102.2 2262.8L1103.7 2260.1L1105.2 2260.7L1106.7 2258.7L1108.2 2259.1L1109.7 2259.5L1111.2 2260.6L1112.7 2260.4L1114.2 2259.6L1115.7 2259.9L1117.2 2260.2L1118.7 2260.9L1120.2 2260.6L1121.7 2261.0L1123.2 2260.0L1124.7 2260.4L1126.2 2261.1L1127.7 2259.4L1129.2 2258.6L1130.7 2258.6L1132.2 2258.3L1133.7 2257.9L1135.2 2258.7L1136.7 2259.1L1138.2 2258.1L1139.7 2257.3L1141.2 2259.3L1142.7 2259.8L1144.2 2259.1L1145.7 2260.0L1147.2 2259.0L1148.7 2258.8L1150.2 2258.8L1151.7 2258.5L1153.2 2258.7L1154.7 2257.7L1156.2 2257.7L1157.7 2256.4L1159.2 2256.2L1160.7 2254.7L1162.2 2254.8L1163.7 2254.5L1165.2 2255.4L1166.7 2255.3L1168.2 2254.9L1169.7 2254.9L1171.2 2254.9L1172.7 2255.1L1174.2 2254.3L1175.7 2252.2L1177.2 2252.6L1178.7 2253.6L1180.2 2253.7L1181.7 2255.3L1183.2 2253.5L1184.7 2253.5L1186.2 2252.9L1187.7 2251.6L1189.2 2252.0L1190.7 2251.4L1192.2 2250.4L1193.7 2250.0L1195.2 2251.8L1196.7 2251.7L1198.2 2251.1L1199.7 2251.1L1201.2 2251.4L1202.7 2250.7L1204.2 2250.0L1205.7 2250.8L1207.2 2249.8L1208.7 2250.6L1210.2 2250.0L1211.7 2250.2L1213.2 2250.1L1214.7 2249.8L1216.2 2251.2L1217.7 2249.9L1219.2 2251.2L1220.7 2251.6L1222.2 2250.5L1223.7 2249.4L1225.2 2249.4L1226.7 2249.5L1228.2 2248.6L1229.7 2248.1L1231.2 2247.2L1232.7 2246.7L1234.2 2247.0L1235.7 2247.1L1237.2 2247.3L1238.7 2245.0L1240.2 2246.0L1241.7 2245.7L1243.2 2246.5L1244.7 2244.8L1246.2 2245.9L1247.7 2246.1L1249.2 2246.0L1250.7 2244.9L1252.2 2246.4L1253.7 2245.7L1255.2 2245.3L1256.7 2246.4L1258.2 2245.0L1259.7 2246.0L1261.2 2245.3L1262.7 2243.5L1264.2 2242.9L1265.7 2243.5L1267.2 2242.8L1268.7 2242.6L1270.2 2242.4L1271.7 2242.5L1273.2 2242.1L1274.7 2243.6L1276.2 2242.9L1277.7 2243.4L1279.2 2241.8L1280.7 2241.6L1282.2 2240.7L1283.7 2240.4L1285.2 2242.0L1286.7 2240.3L1288.2 2240.6L1289.7 2240.3L1291.2 2240.9L1292.7 2239.6L1294.2 2241.3L1295.7 2241.5L1297.2 2241.2L1298.7 2240.3L1300.2 2241.1L1301.7 2239.3L1303.2 2239.2L1304.7 2238.8L1306.2 2237.8L1307.7 2237.4L1309.2 2237.7L1310.7 2238.3L1312.2 2237.9L1313.7 2238.6L1315.2 2238.7L1316.7 2237.3L1318.2 2238.4L1319.7 2239.2L1321.2 2238.2L1322.7 2237.3L1324.2 2236.5L1325.7 2237.2L1327.2 2237.9L1328.7 2237.5L1330.2 2236.7L1331.7 2236.5L1333.2 2235.6L1334.7 2234.4L1336.2 2233.8L1337.7 2234.3L1339.2 2233.4L1340.7 2233.8L1342.2 2235.4L1343.7 2233.9L1345.2 2234.1L1346.7 2233.1L1348.2 2232.4L1349.7 2233.1L1351.2 2232.4L1352.7 2232.7L1354.2 2233.1L1355.7 2232.8L1357.2 2232.2L1358.7 2232.8L1360.2 2231.2L1361.7 2230.8L1363.2 2231.6L1364.7 2231.6L1366.2 2232.9L1367.7 2231.4L1369.2 2231.4L1370.7 2231.0L1372.2 2230.5L1373.7 2231.2L1375.2 2229.2L1376.7 2229.0L1378.2 2228.2L1379.7 2228.1L1381.2 2228.6L1382.7 2228.0L1384.2 2227.8L1385.7 2227.1L1387.2 2226.4L1388.7 2226.7L1390.2 2225.2L1391.7 2225.1L1393.2 2225.6L1394.7 2225.3L1396.2 2225.2L1397.7 2226.0L1399.2 2225.4L1400.7 2225.8L1402.2 2225.4L1403.7 2225.2L1405.2 2224.4L1406.7 2223.0L1408.2 2223.4L1409.7 2223.7L1411.2 2223.4L1412.7 2222.9L1414.2 2221.7L1415.7 2222.1L1417.2 2221.7L1418.7 2221.8L1420.2 2221.4L1421.7 2221.0L1423.2 2220.9L1424.7 2221.4L1426.2 2219.9L1427.7 2219.0L1429.2 2219.0L1430.7 2217.9L1432.2 2218.1L1433.7 2218.6L1435.2 2217.2L1436.7 2216.9L1438.2 2218.4L1439.7 2218.1L1441.2 2218.6L1442.7 2219.2L1444.2 2218.9L1445.7 2218.1L1447.2 2216.5L1448.7 2214.8L1450.2 2214.5L1451.7 2214.7L1453.2 2214.6L1454.7 2213.6L1456.2 2213.0L1457.7 2212.5L1459.2 2212.0L1460.7 2213.0L1462.2 2211.6L1463.7 2211.3L1465.2 2211.1L1466.7 2210.4L1468.2 2210.1L1469.7 2208.9L1471.2 2208.2L1472.7 2208.6L1474.2 2207.2L1475.7 2208.4L1477.2 2207.4L1478.7 2206.8L1480.2 2207.7L1481.7 2206.9L1483.2 2206.6L1484.7 2206.3L1486.2 2206.0L1487.7 2204.9L1489.2 2204.9L1490.7 2203.6L1492.2 2202.6L1493.7 2201.6L1495.2 2201.4L1496.7 2200.9L1498.2 2199.2L1499.7 2199.1L1501.2 2198.5L1502.7 2199.2L1504.2 2199.5L1505.7 2197.5L1507.2 2197.8L1508.7 2197.0L1510.2 2196.8L1511.7 2196.7L1513.2 2195.7L1514.7 2195.0L1516.2 2194.7L1517.7 2193.1L1519.2 2192.5L1520.7 2192.2L1522.2 2190.6L1523.7 2190.2L1525.2 2188.6L1526.7 2188.6L1528.2 2188.3L1529.7 2187.8L1531.2 2187.0L1532.7 2186.9L1534.2 2186.2L1535.7 2184.9L1537.2 2183.5L1538.7 2182.6L1540.2 2182.0L1541.7 2182.2L1543.2 2181.6L1544.7 2179.9L1546.2 2179.7L1547.7 2178.9L1549.2 2177.5L1550.7 2176.6L1552.2 2175.6L1553.7 2173.8L1555.2 2172.3L1556.7 2170.7L1558.2 2170.0L1559.7 2168.0L1561.2 2167.7L1562.7 2166.2L1564.2 2165.3L1565.7 2163.5L1567.2 2162.1L1568.7 2161.2L1570.2 2158.6L1571.7 2159.3L1573.2 2158.0L1574.7 2155.8L1576.2 2155.6L1577.7 2153.1L1579.2 2151.1L1580.7 2149.2L1582.2 2147.1" stroke="#f00"/>
<path d="M268.2 2299.6L269.7 2299.3L271.2 2296.7L272.7 2297.0L274.2 2296.7L275.7 2296.6L277.2 2298.4L278.7 2298.3L280.2 2298.1L281.7 2299.3L283.2 2299.7L284.7 2298.6L286.2 2299.7L287.7 2297.5L289.2 2298.9L290.7 2299.7L292.2 2297.6L293.7 2297.7L295.2 2297.9L296.7 2298.2L298.2 2298.4L299.7 2298.2L301.2 2298.4L302.7 2298.0L304.2 2297.3L305.7 2298.5L307.2 2299.6L308.7 2298.3L310.2 2299.3L311.7 2300.3L313.2 2299.3L314.7 2298.4L316.2 2298.6L317.7 2300.0L319.2 2298.6L320.7 2298.9L322.2 2299.7L323.7 2299.3L325.2 2300.3L326.7 2301.5L328.2 2300.6L329.7 2299.7L331.2 2300.0L332.7 2299.6L334.2 2299.7L335.7 2299.9L337.2 2301.3L338.7 2301.9L340.2 2300.4L341.7 2300.7L343.2 2300.1L344.7 2298.2L346.2 2300.0L347.7 2298.4L349.2 2298.7L350.7 2298.4L352.2 2299.6L353.7 2298.0L355.2 2301.6L356.7 2300.5L358.2 2300.7L359.7 2299.4L361.2 2300.0L362.7 2299.2L364.2 2299.7L365.7 2300.3L367.2 2302.4L368.7 2300.8L370.2 2303.2L371.7 2303.4L373.2 2304.4L374.7 2303.1L376.2 2300.9L377.7 2301.9L379.2 2300.8L380.7 2300.5L382.2 2299.6L383.7 2300.0L385.2 2301.5L386.7 2300.9L388.2 2301.7L389.7 2300.4L391.2 2299.2L392.7 2300.6L394.2 2300.8L395.7 2298.9L397.2 2300.3L398.7 2300.4L400.2 2300.7L401.7 2301.0L403.2 2300.3L404.7 2299.1L406.2 2301.3L407.7 2300.5L409.2 2300.0L410.7 2303.5L412.2 2300.8L413.7 2300.2L415.2 2299.3L416.7 2298.5L418.2 2299.4L419.7 2297.9L421.2 2298.0L422.7 2298.1L424.2 2298.8L425.7 2297.4L427.2 2298.0L428.7 2299.0L430.2 2297.6L431.7 2297.2L433.2 2298.3L434.7 2296.9L436.2 2297.2L437.7 2297.8L439.2 2296.8L440.7 2296.6L442.2 2296.7L443.7 2297.3L445.2 2297.2L446.7 2298.6L448.2 2298.4L449.7 2299.0L451.2 2300.0L452.7 2299.8L454.2 2300.0L455.7 2300.2L457.2 2300.3L458.7 2300.5L460.2 2299.4L461.7 2300.1L463.2 2301.0L464.7 2301.6L466.2 2298.5L467.7 2298.3L469.2 2298.1L470.7 2299.3L472.2 2298.6L473.7 2299.1L475.2 2298.6L476.7 2300.0L478.2 2300.1L479.7 2299.4L481.2 2299.5L482.7 2299.2L484.2 2299.9L485.7 2299.2L487.2 2299.6L488.7 2300.6L490.2 2300.5L491.7 2301.5L493.2 2300.2L494.7 2299.5L496.2 2301.6L497.7 2301.7L499.2 2301.7L500.7 2299.9L502.2 2300.5L503.7 2299.7L505.2 2300.5L506.7 2300.8L508.2 2302.7L509.7 2300.8L511.2 2301.6L512.7 2299.9L514.2 2299.3L515.7 2301.0L517.2 2301.1L518.7 2299.1L520.2 2300.9L521.7 2301.8L523.2 2301.8L524.7 2301.4L526.2 2300.9L527.7 2301.5L529.2 2302.3L530.7 2300.5L532.2 2301.4L533.7 2300.7L535.2 2300.9L536.7 2299.9L538.2 2298.8L539.7 2298.6L541.2 2299.5L542.7 2299.5L544.2 2300.6L545.7 2299.6L547.2 2301.2L548.7 2298.6L550.2 2298.9L551.7 2299.5L553.2 2298.4L554.7 2298.2L556.2 2298.5L557.7 2298.1L559.2 2299.5L560.7 2298.6L562.2 2299.0L563.7 2299.7L565.2 2299.1L566.7 2299.0L568.2 2298.5L569.7 2296.7L571.2 2296.7L572.7 2295.6L574.2 2296.6L575.7 2296.7L577.2 2296.7L578.7 2296.4L580.2 2297.3L581.7 2296.4L583.2 2297.3L584.7 2296.8L586.2 2296.5L587.7 2295.7L589.2 2295.8L590.7 2295.7L592.2 2296.1L593.7 2298.2L595.2 2296.7L596.7 2296.7L598.2 2296.8L599.7 2297.7L601.2 2296.2L602.7 2297.3L604.2 2296.2L605.7 2296.6L607.2 2296.6L608.7 2296.5L610.2 2297.5L611.7 2297.1L613.2 2296.5L614.7 2295.6L616.2 2296.5L617.7 2297.0L619.2 2295.9L620.7 2296.4L622.2 2297.3L623.7 2297.2L625.2 2294.9L626.7 2296.0L628.2 2295.1L629.7 2295.0L631.2 2295.2L632.7 2296.2L634.2 2295.6L635.7 2295.1L637.2 2296.0L638.7 2294.6L640.2 2294.6L641.7 2293.4L643.2 2294.5L644.7 2294.8L646.2 2294.8L647.7 2296.3L649.2 2295.2L650.7 2294.8L652.2 2293.7L653.7 2294.2L655.2 2294.7L656.7 2293.6L658.2 2293.7L659.7 2293.4L661.2 2292.5L662.7 2293.1L664.2 2293.5L665.7 2293.0L667.2 2292.2L668.7 2292.4L670.2 2293.3L671.7 2292.6L673.2 2293.1L674.7 2291.8L676.2 2290.9L677.7 2291.2L679.2 2288.4L680.7 2290.0L682.2 2288.4L683.7 2289.5L685.2 2288.9L686.7 2288.8L688.2 2288.1L689.7 2289.2L691.2 2291.4L692.7 2290.9L694.2 2290.9L695.7 2291.8L697.2 2291.0L698.7 2290.4L700.2 2290.5L701.7 2289.2L703.2 2290.1L704.7 2291.6L706.2 2291.2L707.7 2290.0L709.2 2289.6L710.7 2289.0L712.2 2289.2L713.7 2287.8L715.2 2288.9L716.7 2288.5L718.2 2289.8L719.7 2289.2L721.2 2289.9L722.7 2288.8L724.2 2288.8L725.7 2288.1L727.2 2289.3L728.7 2288.7L730.2 2288.2L731.7 2287.4L733.2 2287.7L734.7 2286.6L736.2 2286.4L737.7 2287.4L739.2 2287.4L740.7 2285.8L742.2 2287.6L743.7 2286.1L745.2 2285.5L746.7 2285.5L748.2 2285.8L749.7 2285.4L751.2 2284.5L752.7 2283.4L754.2 2283.9L755.7 2283.4L757.2 2286.6L758.7 2286.2L760.2 2284.8L761.7 2286.1L763.2 2284.2L764.7 2283.4L766.2 2285.2L767.7 2285.2L769.2 2285.0L770.7 2284.2L772.2 2283.8L773.7 2284.4L775.2 2283.2L776.7 2284.6L778.2 2285.3L779.7 2285.6L781.2 2284.9L782.7 2282.9L784.2 2282.6L785.7 2282.0L787.2 2282.4L788.7 2281.3L790.2 2281.8L791.7 2281.9L793.2 2282.0L794.7 2282.7L796.2 2281.9L797.7 2281.6L799.2 2283.7L800.7 2283.8L802.2 2282.7L803.7 2283.2L805.2 2282.5L806.7 2283.4L808.2 2282.5L809.7 2283.6L811.2 2283.2L812.7 2283.8L814.2 2282.5L815.7 2282.1L817.2 2281.5L818.7 2280.8L820.2 2282.6L821.7 2282.4L823.2 2280.8L824.7 2282.3L826.2 2282.3L827.7 2281.4L829.2 2282.5L830.7 2282.6L832.2 2282.4L833.7 2282.8L835.2 2283.1L836.7 2282.5L838.2 2281.5L839.7 2283.0L841.2 2282.8L842.7 2282.9L844.2 2281.3L845.7 2281.6L847.2 2280.0L848.7 2279.2L850.2 2278.5L851.7 2278.4L853.2 2277.4L854.7 2277.6L856.2 2277.9L857.7 2277.4L859.2 2277.7L860.7 2277.1L862.2 2277.4L863.7 2277.8L865.2 2277.0L866.7 2276.8L868.2 2275.7L869.7 2275.2L871.2 2275.6L872.7 2274.3L874.2 2274.1L875.7 2274.5L877.2 2274.8L878.7 2276.0L880.2 2275.1L881.7 2273.1L883.2 2271.7L884.7 2273.1L886.2 2272.5L887.7 2272.9L889.2 2271.8L890.7 2269.5L892.2 2270.7L893.7 2270.2L895.2 2270.6L896.7 2271.2L898.2 2270.4L899.7 2269.7L901.2 2270.5L902.7 2268.6L904.2 2268.8L905.7 2268.8L907.2 2267.2L908.7 2267.4L910.2 2266.5L911.7 2265.7L913.2 2265.2L914.7 2264.6L916.2 2264.2L917.7 2264.7L919.2 2264.9L920.7 2264.6L922.2 2264.9L923.7 2264.6L925.2 2265.7L926.7 2263.0L928.2 2262.8L929.7 2262.7L931.2 2261.3L932.7 2262.0L934.2 2261.2L935.7 2259.5L937.2 2259.5L938.7 2260.5L940.2 2259.9L941.7 2259.8L943.2 2260.6L944.7 2260.1L946.2 2258.5L947.7 2258.6L949.2 2258.0L950.7 2256.3L952.2 2256.7L953.7 2256.8L955.2 2255.9L956.7 2256.3L958.2 2257.5L959.7 2257.8L961.2 2256.2L962.7 2256.3L964.2 2256.3L965.7 2256.1L967.2 2254.8L968.7 2253.8L970.2 2253.6L971.7 2253.5L973.2 2253.2L974.7 2253.1L976.2 2253.0L977.7 2253.0L979.2 2254.0L980.7 2253.3L982.2 2252.8L983.7 2251.5L985.2 2251.7L986.7 2251.4L988.2 2251.0L989.7 2251.5L991.2 2250.1L992.7 2249.9L994.2 2248.9L995.7 2248.7L997.2 2248.2L998.7 2247.8L1000.2 2248.2L1001.7 2248.8L1003.2 2246.8L1004.7 2247.3L1006.2 2247.5L1007.7 2248.5L1009.2 2248.2L1010.7 2247.0L1012.2 2246.5L1013.7 2245.9L1015.2 2245.6L1016.7 2245.0L1018.2 2245.7L1019.7 2245.1L1021.2 2244.4L1022.7 2244.8L1024.2 2244.3L1025.7 2243.2L1027.2 2242.5L1028.7 2242.1L1030.2 2241.0L1031.7 2240.7L1033.2 2240.0L1034.7 2240.3L1036.2 2240.8L1037.7 2241.0L1039.2 2239.8L1040.7 2240.8L1042.2 2241.8L1043.7 2239.6L1045.2 2240.1L1046.7 2238.9L1048.2 2238.1L1049.7 2238.7L1051.2 2238.2L1052.7 2236.1L1054.2 2238.7L1055.7 2238.8L1057.2 2239.4L1058.7 2237.7L1060.2 2237.2L1061.7 2237.7L1063.2 2238.1L1064.7 2238.1L1066.2 2237.3L1067.7 2237.6L1069.2 2236.8L1070.7 2237.7L1072.2 2236.2L1073.7 2237.1L1075.2 2237.0L1076.7 2235.7L1078.2 2235.3L1079.7 2234.9L1081.2 2234.4L1082.7 2234.9L1084.2 2235.7L1085.7 2236.1L1087.2 2236.1L1088.7 2236.0L1090.2 2236.3L1091.7 2235.1L1093.2 2234.2L1094.7 2233.7L1096.2 2231.0L1097.7 2231.0L1099.2 2229.6L1100.7 2229.7L1102.2 2228.5L1103.7 2227.7L1105.2 2227.3L1106.7 2226.4L1108.2 2227.3L1109.7 2226.7L1111.2 2226.6L1112.7 2226.2L1114.2 2225.8L1115.7 2224.1L1117.2 2223.8L1118.7 2222.6L1120.2 2223.3L1121.7 2222.5L1123.2 2222.3L1124.7 2221.8L1126.2 2222.7L1127.7 2222.0L1129.2 2222.2L1130.7 2221.7L1132.2 2221.0L1133.7 2219.7L1135.2 2218.6L1136.7 2219.9L1138.2 2218.8L1139.7 2219.2L1141.2 2219.0L1142.7 2219.0L1144.2 2219.3L1145.7 2218.6L1147.2 2217.0L1148.7 2216.8L1150.2 2216.9L1151.7 2217.8L1153.2 2217.1L1154.7 2216.4L1156.2 2216.4L1157.7 2216.6L1159.2 2216.0L1160.7 2215.3L1162.2 2215.6L1163.7 2217.2L1165.2 2217.2L1166.7 2216.9L1168.2 2215.4L1169.7 2215.3L1171.2 2214.9L1172.7 2215.1L1174.2 2215.9L1175.7 2216.0L1177.2 2215.9L1178.7 2214.3L1180.2 2212.5L1181.7 2213.8L1183.2 2213.9L1184.7 2212.5L1186.2 2212.3L1187.7 2211.9L1189.2 2212.7L1190.7 2212.2L1192.2 2212.4L1193.7 2211.6L1195.2 2210.4L1196.7 2210.8L1198.2 2210.1L1199.7 2210.8L1201.2 2210.1L1202.7 2209.5L1204.2 2207.6L1205.7 2208.3L1207.2 2209.9L1208.7 2209.3L1210.2 2209.6L1211.7 2207.9L1213.2 2207.0L1214.7 2207.1L1216.2 2208.5L1217.7 2208.1L1219.2 2208.1L1220.7 2208.3L1222.2 2207.6L1223.7 2207.2L1225.2 2207.1L1226.7 2206.6L1228.2 2207.3L1229.7 2207.5L1231.2 2207.2L1232.7 2208.6L1234.2 2208.7L1235.7 2207.5L1237.2 2208.0L1238.7 2207.9L1240.2 2207.7L1241.7 2208.1L1243.2 2208.3L1244.7 2206.3L1246.2 2207.0L1247.7 2207.0L1249.2 2206.5L1250.7 2207.2L1252.2 2205.9L1253.7 2205.4L1255.2 2205.2L1256.7 2205.3L1258.2 2204.2L1259.7 2203.6L1261.2 2203.3L1262.7 2203.9L1264.2 2204.7L1265.7 2204.9L1267.2 2204.0L1268.7 2202.6L1270.2 2203.0L1271.7 2202.2L1273.2 2203.6L1274.7 2203.5L1276.2 2204.6L1277.7 2205.7L1279.2 2204.1L1280.7 2202.6L1282.2 2202.6L1283.7 2202.1L1285.2 2201.7L1286.7 2201.2L1288.2 2200.9L1289.7 2200.1L1291.2 2201.5L1292.7 2201.6L1294.2 2202.6L1295.7 2201.5L1297.2 2201.5L1298.7 2203.0L1300.2 2203.3L1301.7 2201.9L1303.2 2202.2L1304.7 2201.7L1306.2 2199.3L1307.7 2199.2L1309.2 2200.6L1310.7 2199.4L1312.2 2200.3L1313.7 2199.4L1315.2 2198.6L1316.7 2198.7L1318.2 2199.0L1319.7 2198.6L1321.2 2198.6L1322.7 2197.3L1324.2 2196.8L1325.7 2196.4L1327.2 2197.2L1328.7 2195.5L1330.2 2195.4L1331.7 2195.0L1333.2 2196.2L1334.7 2197.0L1336.2 2197.3L1337.7 2198.5L1339.2 2200.4L1340.7 2201.3L1342.2 2201.3L1343.7 2200.7L1345.2 2199.3L1346.7 2199.8L1348.2 2199.4L1349.7 2199.4L1351.2 2199.6L1352.7 2198.8L1354.2 2198.5L1355.7 2197.6L1357.2 2197.5L1358.7 2196.0L1360.2 2197.3L1361.7 2197.1L1363.2 2198.3L1364.7 2198.8L1366.2 2198.5L1367.7 2198.1L1369.2 2197.9L1370.7 2197.4L1372.2 2195.4L1373.7 2193.4L1375.2 2192.9L1376.7 2192.1L1378.2 2191.0L1379.7 2192.1L1381.2 2191.4L1382.7 2191.1L1384.2 2191.4L1385.7 2190.5L1387.2 2190.2L1388.7 2189.3L1390.2 2187.9L1391.7 2189.0L1393.2 2188.9L1394.7 2189.2L1396.2 2187.5L1397.7 2188.8L1399.2 2189.2L1400.7 2189.1L1402.2 2188.7L1403.7 2187.9L1405.2 2187.1L1406.7 2186.7L1408.2 2186.8L1409.7 2186.7L1411.2 2187.6L1412.7 2187.4L1414.2 2186.9L1415.7 2186.7L1417.2 2185.8L1418.7 2185.5L1420.2 2184.4L1421.7 2182.8L1423.2 2183.4L1424.7 2181.9L1426.2 2181.9L1427.7 2182.2L1429.2 2183.1L1430.7 2183.4L1432.2 2183.7L1433.7 2182.2L1435.2 2182.3L1436.7 2181.9L1438.2 2180.8L1439.7 2179.1L1441.2 2179.9L1442.7 2179.2L1444.2 2178.9L1445.7 2179.7L1447.2 2177.2L1448.7 2176.9L1450.2 2177.0L1451.7 2177.0L1453.2 2177.2L1454.7 2176.5L1456.2 2177.0L1457.7 2175.0L1459.2 2174.8L1460.7 2175.4L1462.2 2175.5L1463.7 2176.7L1465.2 2175.8L1466.7 2176.2L1468.2 2178.0L1469.7 2179.4L1471.2 2179.4L1472.7 2179.9L1474.2 2181.0L1475.7 2182.2L1477.2 2181.9L1478.7 2181.6L1480.2 2183.7L1481.7 2182.4L1483.2 2183.4L1484.7 2182.2L1486.2 2183.0L1487.7 2183.2L1489.2 2181.7L1490.7 2181.4L1492.2 2180.2L1493.7 2180.6L1495.2 2179.3L1496.7 2178.9L1498.2 2179.1L1499.7 2178.1L1501.2 2177.9L1502.7 2178.2L1504.2 2176.9L1505.7 2176.9L1507.2 2177.4L1508.7 2176.5L1510.2 2176.0L1511.7 2176.3L1513.2 2176.3L1514.7 2176.1L1516.2 2176.6L1517.7 2175.2L1519.2 2176.1L1520.7 2175.6L1522.2 2175.7L1523.7 2175.6L1525.2 2177.1L1526.7 2175.8L1528.2 2175.2L1529.7 2174.8L1531.2 2175.7L1532.7 2175.0L1534.2 2173.9L1535.7 2174.0L1537.2 2173.6L1538.7 2173.5L1540.2 2172.4L1541.7 2172.6L1543.2 2172.1L1544.7 2171.2L1546.2 2170.9L1547.7 2170.0L1549.2 2170.2L1550.7 2169.2L1552.2 2168.5L1553.7 2168.6L1555.2 2168.6L1556.7 2167.2L1558.2 2167.1L1559.7 2167.6L1561.2 2167.4L1562.7 2168.2L1564.2 2168.6L1565.7 2168.9L1567.2 2168.7L1568.7 2169.3L1570.2 2169.6L1571.7 2169.3L1573.2 2170.5L1574.7 2169.9L1576.2 2170.9L1577.7 2170.1L1579.2 2169.6L1580.7 2171.2L1582.2 2171.2" stroke="#0f0"/>
<path d="M268.2 2317.0L269.7 2317.1L271.2 2317.1L272.7 2317.7L274.2 2317.3L275.7 2316.6L277.2 2315.9L278.7 2314.9L280.2 2315.7L281.7 2315.5L283.2 2316.3L284.7 2316.1L286.2 2316.3L287.7 2316.7L289.2 2315.8L290.7 2317.1L292.2 2315.3L293.7 2314.1L295.2 2313.6L296.7 2313.1L298.2 2312.4L299.7 2314.0L301.2 2312.1L302.7 2312.1L304.2 2313.4L305.7 2313.8L307.2 2314.2L308.7 2314.3L310.2 2313.4L311.7 2314.1L313.2 2313.3L314.7 2312.9L316.2 2313.3L317.7 2311.8L319.2 2311.5L320.7 2312.2L322.2 2312.8L323.7 2310.8L325.2 2311.4L326.7 2310.2L328.2 2311.9L329.7 2312.4L331.2 2311.4L332.7 2311.8L334.2 2310.6L335.7 2311.6L337.2 2310.8L338.7 2310.1L340.2 2311.4L341.7 2310.5L343.2 2309.3L344.7 2310.7L346.2 2311.2L347.7 2310.9L349.2 2310.6L350.7 2310.1L352.2 2310.0L353.7 2309.7L355.2 2309.1L356.7 2308.3L358.2 2308.0L359.7 2309.5L361.2 2307.7L362.7 2309.0L364.2 2309.7L365.7 2308.9L367.2 2308.8L368.7 2308.3L370.2 2308.1L371.7 2306.4L373.2 2307.7L374.7 2308.6L376.2 2308.8L377.7 2309.0L379.2 2308.2L380.7 2307.7L382.2 2308.1L383.7 2308.3L385.2 2308.4L386.7 2307.9L388.2 2309.7L389.7 2308.7L391.2 2309.0L392.7 2308.1L394.2 2307.7L395.7 2307.5L397.2 2306.3L398.7 2306.2L400.2 2306.2L401.7 2305.5L403.2 2305.6L404.7 2306.2L406.2 2304.3L407.7 2305.2L409.2 2305.4L410.7 2304.8L412.2 2303.8L413.7 2303.8L415.2 2303.0L416.7 2303.1L418.2 2303.4L419.7 2302.7L421.2 2302.0L422.7 2303.1L424.2 2301.9L425.7 2301.1L427.2 2301.3L428.7 2301.5L430.2 2301.0L431.7 2300.4L433.2 2301.8L434.7 2300.6L436.2 2299.7L437.7 2302.0L439.2 2301.6L440.7 2301.4L442.2 2301.6L443.7 2301.3L445.2 2302.2L446.7 2300.9L448.2 2300.2L449.7 2300.8L451.2 2301.4L452.7 2300.3L454.2 2299.6L455.7 2300.5L457.2 2300.4L458.7 2299.5L460.2 2299.9L461.7 2299.3L463.2 2299.2L464.7 2299.5L466.2 2298.9L467.7 2300.0L469.2 2298.9L470.7 2298.3L472.2 2298.7L473.7 2298.0L475.2 2297.4L476.7 2297.5L478.2 2297.9L479.7 2296.5L481.2 2296.4L482.7 2295.1L484.2 2296.1L485.7 2295.7L487.2 2296.6L488.7 2296.6L490.2 2296.7L491.7 2293.3L493.2 2294.0L494.7 2295.1L496.2 2294.0L497.7 2294.3L499.2 2295.1L500.7 2293.7L502.2 2294.9L503.7 2295.6L505.2 2296.3L506.7 2297.3L508.2 2296.5L509.7 2294.7L511.2 2295.5L512.7 2295.0L514.2 2294.9L515.7 2294.3L517.2 2293.9L518.7 2293.4L520.2 2293.8L521.7 2293.4L523.2 2291.8L524.7 2292.6L526.2 2291.9L527.7 2289.7L529.2 2290.4L530.7 2289.9L532.2 2290.9L533.7 2291.3L535.2 2291.8L536.7 2292.0L538.2 2290.9L539.7 2289.6L541.2 2289.6L542.7 2289.5L544.2 2289.3L545.7 2288.4L547.2 2288.9L548.7 2288.4L550.2 2287.8L551.7 2288.5L553.2 2289.6L554.7 2289.4L556.2 2289.7L557.7 2290.1L559.2 2290.5L560.7 2291.5L562.2 2291.2L563.7 2290.7L565.2 2291.3L566.7 2290.8L568.2 2291.6L569.7 2292.5L571.2 2292.5L572.7 2291.0L574.2 2292.8L575.7 2291.9L577.2 2291.8L578.7 2291.4L580.2 2289.7L581.7 2287.9L583.2 2288.3L584.7 2288.6L586.2 2289.9L587.7 2289.4L589.2 2288.8L590.7 2287.9L592.2 2288.5L593.7 2287.7L595.2 2287.1L596.7 2285.1L598.2 2285.0L599.7 2287.1L601.2 2285.8L602.7 2285.1L604.2 2286.8L605.7 2285.9L607.2 2284.4L608.7 2284.7L610.2 2284.4L611.7 2285.7L613.2 2285.2L614.7 2285.6L616.2 2285.7L617.7 2284.7L619.2 2284.9L620.7 2285.0L622.2 2283.9L623.7 2283.7L625.2 2283.1L626.7 2284.7L628.2 2284.0L629.7 2283.3L631.2 2282.6L632.7 2282.9L634.2 2282.2L635.7 2281.7L637.2 2281.5L638.7 2283.6L640.2 2281.1L641.7 2282.3L643.2 2281.3L644.7 2281.4L646.2 2280.8L647.7 2281.4L649.2 2281.2L650.7 2283.2L652.2 2281.7L653.7 2283.2L655.2 2282.9L656.7 2283.2L658.2 2281.7L659.7 2280.5L661.2 2281.0L662.7 2281.7L664.2 2281.6L665.7 2280.2L667.2 2280.4L668.7 2280.6L670.2 2281.8L671.7 2281.2L673.2 2281.3L674.7 2279.8L676.2 2280.2L677.7 2278.8L679.2 2279.4L680.7 2278.8L682.2 2278.7L683.7 2279.6L685.2 2280.0L686.7 2280.2L688.2 2280.8L689.7 2281.6L691.2 2281.2L692.7 2280.8L694.2 2281.3L695.7 2281.1L697.2 2280.6L698.7 2277.8L700.2 2277.5L701.7 2277.1L703.2 2280.4L704.7 2279.0L706.2 2279.0L707.7 2278.9L709.2 2278.2L710.7 2278.9L712.2 2279.9L713.7 2278.3L715.2 2280.7L716.7 2281.0L718.2 2280.6L719.7 2280.3L721.2 2278.8L722.7 2279.6L724.2 2278.5L725.7 2279.5L727.2 2277.4L728.7 2277.6L730.2 2277.9L731.7 2276.0L733.2 2276.8L734.7 2277.2L736.2 2275.9L737.7 2277.4L739.2 2278.1L740.7 2277.0L742.2 2275.7L743.7 2276.6L745.2 2276.7L746.7 2277.5L748.2 2279.0L749.7 2279.4L751.2 2279.3L752.7 2279.3L754.2 2277.6L755.7 2276.7L757.2 2275.7L758.7 2276.4L760.2 2275.0L761.7 2275.7L763.2 2278.2L764.7 2275.6L766.2 2276.2L767.7 2273.6L769.2 2272.8L770.7 2273.1L772.2 2273.6L773.7 2276.3L775.2 2276.3L776.7 2275.9L778.2 2274.1L779.7 2273.4L781.2 2274.1L782.7 2273.8L784.2 2272.4L785.7 2275.0L787.2 2274.8L788.7 2275.6L790.2 2274.5L791.7 2274.4L793.2 2274.8L794.7 2273.6L796.2 2273.9L797.7 2272.9L799.2 2272.8L800.7 2272.1L802.2 2272.8L803.7 2272.3L805.2 2273.5L806.7 2272.7L808.2 2271.8L809.7 2273.0L811.2 2273.8L812.7 2272.5L814.2 2273.2L815.7 2272.8L817.2 2276.1L818.7 2274.4L820.2 2274.3L821.7 2273.3L823.2 2274.4L824.7 2273.3L826.2 2272.5L827.7 2272.8L829.2 2273.8L830.7 2272.1L832.2 2273.2L833.7 2273.8L835.2 2274.3L836.7 2272.9L838.2 2271.3L839.7 2272.8L841.2 2272.7L842.7 2272.6L844.2 2272.9L845.7 2273.0L847.2 2273.4L848.7 2271.8L850.2 2272.3L851.7 2271.2L853.2 2270.6L854.7 2270.7L856.2 2272.1L857.7 2270.4L859.2 2271.4L860.7 2271.3L862.2 2268.9L863.7 2270.1L865.2 2268.8L866.7 2269.8L868.2 2269.5L869.7 2268.3L871.2 2269.4L872.7 2267.5L874.2 2268.4L875.7 2267.7L877.2 2268.0L878.7 2267.3L880.2 2268.0L881.7 2266.6L883.2 2265.4L884.7 2263.8L886.2 2263.8L887.7 2263.6L889.2 2264.7L890.7 2264.6L892.2 2264.3L893.7 2263.1L895.2 2263.8L896.7 2263.2L898.2 2263.5L899.7 2262.5L901.2 2261.8L902.7 2260.4L904.2 2261.1L905.7 2260.0L907.2 2262.8L908.7 2261.5L910.2 2261.5L911.7 2260.6L913.2 2259.8L914.7 2258.9L916.2 2259.4L917.7 2258.5L919.2 2259.8L920.7 2258.9L922.2 2258.6L923.7 2258.8L925.2 2257.9L926.7 2258.0L928.2 2256.8L929.7 2257.4L931.2 2257.4L932.7 2256.1L934.2 2256.9L935.7 2257.5L937.2 2259.1L938.7 2257.9L940.2 2257.2L941.7 2257.3L943.2 2256.2L944.7 2256.5L946.2 2256.2L947.7 2256.3L949.2 2256.7L950.7 2255.7L952.2 2255.0L953.7 2255.2L955.2 2254.1L956.7 2256.2L958.2 2254.3L959.7 2253.3L961.2 2254.2L962.7 2254.6L964.2 2253.9L965.7 2254.9L967.2 2254.6L968.7 2255.9L970.2 2255.3L971.7 2253.2L973.2 2254.3L974.7 2254.7L976.2 2254.6L977.7 2253.7L979.2 2253.8L980.7 2253.8L982.2 2253.2L983.7 2251.0L985.2 2250.2L986.7 2250.6L988.2 2250.7L989.7 2249.9L991.2 2249.2L992.7 2249.7L994.2 2250.5L995.7 2251.9L997.2 2251.0L998.7 2250.6L1000.2 2248.8L1001.7 2248.4L1003.2 2248.6L1004.7 2248.6L1006.2 2248.7L1007.7 2249.1L1009.2 2248.7L1010.7 2248.6L1012.2 2247.1L1013.7 2247.2L1015.2 2246.7L1016.7 2247.8L1018.2 2245.9L1019.7 2245.2L1021.2 2246.0L1022.7 2245.4L1024.2 2244.8L1025.7 2244.8L1027.2 2245.5L1028.7 2244.9L1030.2 2245.2L1031.7 2246.2L1033.2 2246.0L1034.7 2245.2L1036.2 2243.8L1037.7 2244.1L1039.2 2243.2L1040.7 2241.6L1042.2 2242.0L1043.7 2242.0L1045.2 2242.6L1046.7 2242.9L1048.2 2242.4L1049.7 2242.0L1051.2 2241.8L1052.7 2241.7L1054.2 2241.3L1055.7 2240.6L1057.2 2239.6L1058.7 2240.9L1060.2 2239.2L1061.7 2237.4L1063.2 2238.1L1064.7 2236.9L1066.2 2235.2L1067.7 2234.7L1069.2 2233.9L1070.7 2231.5L1072.2 2230.7L1073.7 2230.4L1075.2 2230.7L1076.7 2230.6L1078.2 2229.7L1079.7 2228.1L1081.2 2228.1L1082.7 2228.0L1084.2 2227.5L1085.7 2227.1L1087.2 2225.2L1088.7 2224.5L1090.2 2223.5L1091.7 2223.6L1093.2 2223.0L1094.7 2222.2L1096.2 2222.2L1097.7 2221.1L1099.2 2220.8L1100.7 2219.1L1102.2 2217.5L1103.7 2217.3L1105.2 2216.6L1106.7 2215.5L1108.2 2213.8L1109.7 2213.1L1111.2 2212.4L1112.7 2211.6L1114.2 2209.1L1115.7 2209.4L1117.2 2208.1L1118.7 2208.0L1120.2 2208.1L1121.7 2207.2L1123.2 2205.2L1124.7 2203.4L1126.2 2202.9L1127.7 2201.7L1129.2 2201.4L1130.7 2200.9L1132.2 2198.2L1133.7 2197.5L1135.2 2196.7L1136.7 2195.8L1138.2 2195.1L1139.7 2194.7L1141.2 2193.8L1142.7 2192.6L1144.2 2192.3L1145.7 2191.1L1147.2 2189.9L1148.7 2187.8L1150.2 2187.3L1151.7 2187.0L1153.2 2185.0L1154.7 2184.5L1156.2 2183.0L1157.7 2181.5L1159.2 2180.3L1160.7 2179.2L1162.2 2177.9L1163.7 2178.3L1165.2 2177.1L1166.7 2177.0L1168.2 2174.9L1169.7 2174.1L1171.2 2173.1L1172.7 2171.5L1174.2 2171.6L1175.7 2170.6L1177.2 2168.5L1178.7 2168.0L1180.2 2167.0L1181.7 2165.9L1183.2 2165.4L1184.7 2166.0L1186.2 2163.9L1187.7 2163.0L1189.2 2162.8L1190.7 2161.8L1192.2 2160.2L1193.7 2159.2L1195.2 2157.2L1196.7 2155.8L1198.2 2155.6L1199.7 2154.6L1201.2 2154.4L1202.7 2154.3L1204.2 2152.1L1205.7 2150.1L1207.2 2149.4L1208.7 2149.1L1210.2 2148.4L1211.7 2147.7L1213.2 2147.1L1214.7 2146.5L1216.2 2146.2L1217.7 2145.5L1219.2 2145.5L1220.7 2143.3L1222.2 2142.9L1223.7 2141.2L1225.2 2139.9L1226.7 2139.0L1228.2 2137.6L1229.7 2137.9L1231.2 2136.9L1232.7 2136.5L1234.2 2135.2L1235.7 2135.3L1237.2 2134.3L1238.7 2131.8L1240.2 2132.4L1241.7 2132.0L1243.2 2131.4L1244.7 2130.2L1246.2 2129.3L1247.7 2127.5L1249.2 2127.7L1250.7 2127.2L1252.2 2126.8L1253.7 2125.4L1255.2 2124.6L1256.7 2122.9L1258.2 2122.5L1259.7 2120.7L1261.2 2120.4L1262.7 2119.7L1264.2 2121.1L1265.7 2118.9L1267.2 2118.3L1268.7 2117.1L1270.2 2118.2L1271.7 2117.1L1273.2 2116.9L1274.7 2117.8L1276.2 2117.7L1277.7 2116.1L1279.2 2116.0L1280.7 2115.1L1282.2 2114.6L1283.7 2116.0L1285.2 2115.9L1286.7 2114.4L1288.2 2114.1L1289.7 2113.5L1291.2 2115.2L1292.7 2115.0L1294.2 2113.7L1295.7 2114.2L1297.2 2113.4L1298.7 2113.1L1300.2 2112.2L1301.7 2112.1L1303.2 2112.4L1304.7 2111.9L1306.2 2112.8L1307.7 2114.0L1309.2 2112.2L1310.7 2112.9L1312.2 2112.0L1313.7 2111.1L1315.2 2111.9L1316.7 2112.8L1318.2 2112.5L1319.7 2112.2L1321.2 2111.2L1322.7 2111.4L1324.2 2112.1L1325.7 2113.0L1327.2 2111.4L1328.7 2112.4L1330.2 2111.4L1331.7 2111.5L1333.2 2113.2L1334.7 2113.1L1336.2 2112.0L1337.7 2111.1L1339.2 2112.4L1340.7 2113.6L1342.2 2113.2L1343.7 2114.1L1345.2 2114.9L1346.7 2114.2L1348.2 2114.4L1349.7 2116.5L1351.2 2116.0L1352.7 2116.2L1354.2 2116.0L1355.7 2116.7L1357.2 2117.5L1358.7 2114.6L1360.2 2114.8L1361.7 2116.2L1363.2 2116.2L1364.7 2117.3L1366.2 2115.7L1367.7 2114.9L1369.2 2116.1L1370.7 2116.0L1372.2 2115.9L1373.7 2114.7L1375.2 2115.1L1376.7 2115.7L1378.2 2116.8L1379.7 2117.8L1381.2 2116.7L1382.7 2116.3L1384.2 2115.8L1385.7 2117.0L1387.2 2116.5L1388.7 2116.2L1390.2 2117.3L1391.7 2117.5L1393.2 2117.5L1394.7 2118.1L1396.2 2119.6L1397.7 2118.8L1399.2 2119.5L1400.7 2119.4L1402.2 2120.0L1403.7 2118.8L1405.2 2119.4L1406.7 2121.0L1408.2 2121.1L1409.7 2119.2L1411.2 2118.9L1412.7 2118.3L1414.2 2116.7L1415.7 2117.1L1417.2 2115.7L1418.7 2117.6L1420.2 2117.9L1421.7 2118.2L1423.2 2118.4L1424.7 2119.5L1426.2 2118.5L1427.7 2119.4L1429.2 2118.9L1430.7 2119.6L1432.2 2118.0L1433.7 2117.7L1435.2 2117.3L1436.7 2117.0L1438.2 2117.0L1439.7 2116.8L1441.2 2117.7L1442.7 2118.2L1444.2 2118.4L1445.7 2118.9L1447.2 2119.1L1448.7 2118.4L1450.2 2119.8L1451.7 2119.6L1453.2 2119.5L1454.7 2120.1L1456.2 2120.6L1457.7 2121.4L1459.2 2121.8L1460.7 2122.1L1462.2 2122.5L1463.7 2124.0L1465.2 2125.6L1466.7 2125.3L1468.2 2125.5L1469.7 2125.8L1471.2 2127.6L1472.7 2127.7L1474.2 2127.5L1475.7 2129.2L1477.2 2130.0L1478.7 2131.0L1480.2 2131.1L1481.7 2133.6L1483.2 2136.4L1484.7 2138.3L1486.2 2140.8L1487.7 2143.6L1489.2 2145.8L1490.7 2147.9L1492.2 2150.4L1493.7 2151.9L1495.2 2154.8L1496.7 2156.7L1498.2 2158.1L1499.7 2160.8L1501.2 2162.4L1502.7 2164.1L1504.2 2166.5L1505.7 2168.1L1507.2 2170.6L1508.7 2171.8L1510.2 2175.1L1511.7 2177.2L1513.2 2179.3L1514.7 2181.9L1516.2 2184.1L1517.7 2186.0L1519.2 2189.1L1520.7 2191.2L1522.2 2193.4L1523.7 2196.0L1525.2 2197.6L1526.7 2199.1L1528.2 2199.7L1529.7 2201.8L1531.2 2203.7L1532.7 2204.8L1534.2 2206.0L1535.7 2207.1L1537.2 2209.0L1538.7 2210.7L1540.2 2212.1L1541.7 2211.6L1543.2 2214.1L1544.7 2214.9L1546.2 2215.9L1547.7 2216.4L1549.2 2216.9L1550.7 2217.1L1552.2 2217.4L1553.7 2219.7L1555.2 2220.4L1556.7 2221.0L1558.2 2222.6L1559.7 2224.0L1561.2 2225.3L1562.7 2226.2L1564.2 2228.0L1565.7 2228.3L1567.2 2229.1L1568.7 2229.0L1570.2 2229.3L1571.7 2229.1L1573.2 2228.1L1574.7 2228.3L1576.2 2227.2L1577.7 2227.3L1579.2 2228.0L1580.7 2227.3L1582.2 2225.8" stroke="#00f"/>
</g>
<g clip-path="url(#cb2)" fill="none" stroke-linejoin="round" stroke-linecap="round" stroke-width="8">
<path d="M268.2 3204.1L269.7 3204.4L271.2 3204.3L272.7 3203.8L274.2 3203.2L275.7 3203.7L277.2 3204.1L278.7 3203.9L280.2 3201.8L281.7 3202.4L283.2 3203.5L284.7 3204.0L286.2 3203.5L287.7 3204.0L289.2 3203.6L290.7 3203.5L292.2 3204.8L293.7 3203.2L295.2 3203.1L296.7 3203.4L298.2 3203.2L299.7 3202.1L301.2 3202.1L302.7 3202.1L304.2 3200.7L305.7 3200.6L307.2 3201.8L308.7 3201.7L310.2 3201.2L311.7 3201.6L313.2 3201.2L314.7 3203.3L316.2 3202.2L317.7 3202.0L319.2 3201.2L320.7 3202.1L322.2 3203.7L323.7 3201.7L325.2 3202.7L326.7 3202.2L328.2 3202.6L329.7 3201.6L331.2 3201.0L332.7 3201.4L334.2 3200.9L335.7 3201.1L337.2 3202.9L338.7 3202.7L340.2 3203.1L341.7 3201.1L343.2 3201.9L344.7 3201.4L346.2 3202.6L347.7 3202.4L349.2 3202.3L350.7 3201.3L352.2 3200.4L353.7 3201.3L355.2 3202.6L356.7 3201.6L358.2 3201.8L359.7 3202.1L361.2 3202.5L362.7 3200.3L364.2 3200.3L365.7 3199.8L367.2 3201.0L368.7 3200.1L370.2 3200.6L371.7 3201.8L373.2 3202.4L374.7 3202.7L376.2 3203.7L377.7 3202.6L379.2 3202.0L380.7 3201.2L382.2 3201.1L383.7 3202.5L385.2 3200.8L386.7 3201.2L388.2 3200.3L389.7 3200.2L391.2 3200.9L392.7 3201.6L394.2 3201.9L395.7 3201.9L397.2 3202.5L398.7 3201.4L400.2 3202.1L401.7 3201.2L403.2 3200.0L404.7 3200.4L406.2 3200.0L407.7 3200.7L409.2 3200.3L410.7 3199.8L412.2 3199.3L413.7 3198.6L415.2 3197.1L416.7 3197.0L418.2 3197.0L419.7 3197.7L421.2 3197.8L422.7 3197.3L424.2 3197.6L425.7 3198.1L427.2 3198.6L428.7 3198.1L430.2 3198.5L431.7 3196.3L433.2 3196.6L434.7 3196.3L436.2 3195.9L437.7 3195.2L439.2 3196.5L440.7 3196.7L442.2 3196.0L443.7 3196.3L445.2 3196.3L446.7 3195.8L448.2 3196.8L449.7 3195.7L451.2 3194.6L452.7 3195.2L454.2 3193.7L455.7 3192.7L457.2 3192.6L458.7 3194.0L460.2 3193.9L461.7 3194.2L463.2 3194.5L464.7 3193.4L466.2 3192.1L467.7 3191.8L469.2 3192.4L470.7 3191.4L472.2 3192.6L473.7 3192.4L475.2 3193.2L476.7 3192.9L478.2 3191.4L479.7 3191.7L481.2 3191.1L482.7 3191.9L484.2 3190.8L485.7 3191.1L487.2 3190.6L488.7 3192.7L490.2 3193.6L491.7 3192.3L493.2 3192.4L494.7 3193.2L496.2 3193.7L497.7 3192.9L499.2 3193.6L500.7 3192.5L502.2 3192.5L503.7 3191.7L505.2 3193.3L506.7 3194.1L508.2 3191.9L509.7 3191.5L511.2 3189.7L512.7 3190.9L514.2 3190.8L515.7 3190.9L517.2 3191.3L518.7 3188.6L520.2 3188.8L521.7 3189.5L523.2 3190.9L524.7 3190.3L526.2 3190.9L527.7 3191.2L529.2 3191.0L530.7 3189.7L532.2 3189.5L533.7 3190.1L535.2 3190.1L536.7 3190.1L538.2 3189.0L539.7 3188.4L541.2 3188.5L542.7 3188.2L544.2 3188.9L545.7 3189.8L547.2 3190.2L548.7 3188.9L550.2 3189.8L551.7 3191.0L553.2 3190.0L554.7 3188.4L556.2 3187.8L557.7 3188.5L559.2 3190.1L560.7 3189.5L562.2 3189.2L563.7 3188.9L565.2 3187.8L566.7 3187.5L568.2 3186.8L569.7 3187.8L571.2 3185.5L572.7 3185.7L574.2 3187.4L575.7 3187.4L577.2 3188.0L578.7 3188.5L580.2 3187.4L581.7 3186.8L583.2 3185.8L584.7 3185.3L586.2 3183.6L587.7 3184.4L589.2 3183.3L590.7 3183.3L592.2 3181.4L593.7 3181.5L595.2 3181.6L596.7 3180.7L598.2 3182.7L599.7 3182.0L601.2 3181.5L602.7 3181.7L604.2 3182.9L605.7 3182.4L607.2 3181.3L608.7 3179.4L610.2 3180.8L611.7 3180.8L613.2 3180.8L614.7 3181.6L616.2 3181.1L617.7 3182.0L619.2 3181.3L620.7 3181.4L622.2 3181.0L623.7 3182.2L625.2 3182.9L626.7 3182.8L628.2 3182.3L629.7 3181.1L631.2 3180.7L632.7 3179.9L634.2 3179.3L635.7 3178.6L637.2 3179.3L638.7 3179.1L640.2 3179.0L641.7 3179.8L643.2 3178.8L644.7 3178.5L646.2 3179.2L647.7 3179.8L649.2 3180.9L650.7 3180.2L652.2 3180.0L653.7 3178.7L655.2 3178.1L656.7 3176.6L658.2 3177.3L659.7 3176.8L661.2 3177.6L662.7 3175.1L664.2 3175.5L665.7 3174.7L667.2 3175.8L668.7 3176.2L670.2 3175.7L671.7 3173.9L673.2 3174.0L674.7 3174.0L676.2 3173.6L677.7 3174.6L679.2 3174.4L680.7 3174.4L682.2 3173.7L683.7 3173.7L685.2 3173.1L686.7 3173.3L688.2 3173.1L689.7 3173.1L691.2 3172.8L692.7 3172.1L694.2 3173.4L695.7 3173.5L697.2 3173.3L698.7 3172.7L700.2 3172.6L701.7 3172.7L703.2 3172.5L704.7 3170.3L706.2 3170.7L707.7 3170.4L709.2 3170.9L710.7 3171.7L712.2 3172.0L713.7 3170.4L715.2 3171.0L716.7 3170.5L718.2 3172.3L719.7 3173.7L721.2 3174.0L722.7 3171.6L724.2 3170.2L725.7 3170.4L727.2 3169.4L728.7 3170.4L730.2 3170.4L731.7 3169.7L733.2 3170.0L734.7 3168.7L736.2 3167.3L737.7 3167.3L739.2 3168.0L740.7 3169.1L742.2 3169.2L743.7 3168.4L745.2 3168.4L746.7 3168.1L748.2 3167.9L749.7 3168.6L751.2 3166.4L752.7 3166.7L754.2 3165.8L755.7 3165.6L757.2 3165.9L758.7 3164.9L760.2 3165.2L761.7 3163.4L763.2 3163.6L764.7 3163.4L766.2 3163.4L767.7 3162.2L769.2 3161.5L770.7 3162.3L772.2 3161.2L773.7 3160.8L775.2 3160.6L776.7 3158.9L778.2 3159.2L779.7 3159.1L781.2 3159.4L782.7 3160.1L784.2 3160.4L785.7 3160.5L787.2 3158.6L788.7 3157.9L790.2 3157.6L791.7 3156.9L793.2 3156.2L794.7 3154.8L796.2 3154.8L797.7 3154.1L799.2 3154.8L800.7 3155.2L802.2 3154.4L803.7 3155.6L805.2 3154.2L806.7 3153.6L808.2 3152.9L809.7 3151.7L811.2 3151.6L812.7 3151.6L814.2 3151.3L815.7 3150.2L817.2 3149.2L818.7 3148.2L820.2 3148.2L821.7 3146.8L823.2 3147.2L824.7 3145.7L826.2 3146.1L827.7 3145.8L829.2 3145.9L830.7 3145.2L832.2 3144.2L833.7 3143.2L835.2 3142.9L836.7 3141.6L838.2 3141.2L839.7 3141.2L841.2 3139.7L842.7 3138.8L844.2 3137.5L845.7 3137.0L847.2 3136.3L848.7 3135.3L850.2 3133.8L851.7 3133.2L853.2 3132.6L854.7 3132.3L856.2 3131.4L857.7 3130.1L859.2 3129.8L860.7 3129.6L862.2 3128.4L863.7 3127.4L865.2 3127.3L866.7 3127.1L868.2 3125.5L869.7 3124.3L871.2 3123.2L872.7 3121.9L874.2 3121.2L875.7 3119.6L877.2 3119.0L878.7 3118.1L880.2 3118.0L881.7 3115.9L883.2 3114.7L884.7 3113.8L886.2 3112.0L887.7 3110.9L889.2 3109.0L890.7 3107.1L892.2 3105.4L893.7 3103.8L895.2 3101.5L896.7 3099.4L898.2 3097.6L899.7 3094.9L901.2 3093.0L902.7 3090.4L904.2 3087.8L905.7 3085.9L907.2 3083.1L908.7 3080.6L910.2 3078.1L911.7 3075.1L913.2 3073.2L914.7 3070.0L916.2 3067.0L917.7 3064.3L919.2 3060.7L920.7 3057.6L922.2 3054.3L923.7 3050.6L925.2 3046.6L926.7 3042.7L928.2 3038.3L929.7 3033.6L931.2 3028.9L932.7 3024.5L934.2 3019.8L935.7 3014.7L937.2 3009.3L938.7 3003.6L940.2 2998.7L941.7 2992.8L943.2 2986.8L944.7 2980.9L946.2 2974.4L947.7 2968.4L949.2 2961.7L950.7 2955.0L952.2 2947.9L953.7 2941.0L955.2 2933.7L956.7 2926.0L958.2 2918.4L959.7 2910.4L961.2 2902.7L962.7 2894.4L964.2 2886.1L965.7 2877.5L967.2 2868.9L968.7 2859.8L970.2 2850.5L971.7 2840.8L973.2 2831.1L974.7 2820.1L976.2 2809.0L977.7 2797.2L979.2 2785.4L980.7 2773.6L982.2 2762.1L983.7 2751.0L985.2 2740.8L986.7 2730.8L988.2 2721.0L989.7 2711.7L991.2 2702.2L992.7 2693.0L994.2 2684.6L995.7 2675.8L997.2 2667.5L998.7 2659.2L1000.2 2651.8L1001.7 2645.4L1003.2 2640.0L1004.7 2635.0L1006.2 2631.0L1007.7 2626.9L1009.2 2623.7L1010.7 2621.0L1012.2 2618.7L1013.7 2616.6L1015.2 2615.4L1016.7 2614.8L1018.2 2614.2L1019.7 2614.4L1021.2 2612.9L1022.7 2612.9L1024.2 2614.6L1025.7 2615.9L1027.2 2618.5L1028.7 2620.9L1030.2 2623.1L1031.7 2626.2L1033.2 2630.7L1034.7 2636.5L1036.2 2643.2L1037.7 2649.9L1039.2 2656.7L1040.7 2663.9L1042.2 2671.8L1043.7 2680.3L1045.2 2688.9L1046.7 2697.8L1048.2 2706.8L1049.7 2716.5L1051.2 2726.5L1052.7 2736.8L1054.2 2747.2L1055.7 2757.7L1057.2 2768.4L1058.7 2778.8L1060.2 2789.8L1061.7 2800.6L1063.2 2811.8L1064.7 2823.1L1066.2 2833.9L1067.7 2844.3L1069.2 2854.7L1070.7 2864.1L1072.2 2873.6L1073.7 2882.8L1075.2 2891.5L1076.7 2900.4L1078.2 2908.7L1079.7 2917.0L1081.2 2925.1L1082.7 2932.5L1084.2 2939.9L1085.7 2947.1L1087.2 2954.2L1088.7 2961.1L1090.2 2967.2L1091.7 2973.5L1093.2 2979.7L1094.7 2985.7L1096.2 2991.4L1097.7 2996.9L1099.2 3002.0L1100.7 3007.2L1102.2 3012.2L1103.7 3017.2L1105.2 3021.5L1106.7 3026.4L1108.2 3030.5L1109.7 3034.5L1111.2 3038.5L1112.7 3042.0L1114.2 3046.2L1115.7 3049.4L1117.2 3052.1L1118.7 3055.4L1120.2 3058.8L1121.7 3061.4L1123.2 3063.2L1124.7 3066.2L1126.2 3068.4L1127.7 3070.7L1129.2 3073.5L1130.7 3075.2L1132.2 3078.2L1133.7 3080.8L1135.2 3082.3L1136.7 3084.2L1138.2 3086.1L1139.7 3088.1L1141.2 3089.5L1142.7 3092.0L1144.2 3093.0L1145.7 3095.5L1147.2 3097.1L1148.7 3098.8L1150.2 3099.9L1151.7 3101.6L1153.2 3103.5L1154.7 3103.8L1156.2 3105.7L1157.7 3106.9L1159.2 3107.9L1160.7 3108.7L1162.2 3109.9L1163.7 3110.5L1165.2 3111.0L1166.7 3112.9L1168.2 3113.2L1169.7 3115.4L1171.2 3115.7L1172.7 3116.0L1174.2 3116.7L1175.7 3117.2L1177.2 3118.7L1178.7 3119.1L1180.2 3119.7L1181.7 3120.9L1183.2 3120.9L1184.7 3119.6L1186.2 3120.5L1187.7 3120.4L1189.2 3121.3L1190.7 3122.3L1192.2 3121.0L1193.7 3121.9L1195.2 3122.8L1196.7 3122.6L1198.2 3122.5L1199.7 3123.4L1201.2 3122.8L1202.7 3123.4L1204.2 3123.0L1205.7 3124.6L1207.2 3124.4L1208.7 3125.4L1210.2 3125.8L1211.7 3126.0L1213.2 3127.1L1214.7 3126.7L1216.2 3127.6L1217.7 3127.1L1219.2 3127.9L1220.7 3127.1L1222.2 3127.2L1223.7 3127.2L1225.2 3127.2L1226.7 3127.1L1228.2 3127.9L1229.7 3127.3L1231.2 3128.7L1232.7 3130.3L1234.2 3130.2L1235.7 3129.8L1237.2 3129.9L1238.7 3131.2L1240.2 3131.6L1241.7 3128.9L1243.2 3129.5L1244.7 3130.1L1246.2 3131.4L1247.7 3131.1L1249.2 3131.7L1250.7 3132.2L1252.2 3132.1L1253.7 3132.7L1255.2 3133.4L1256.7 3133.6L1258.2 3132.5L1259.7 3131.7L1261.2 3133.2L1262.7 3133.9L1264.2 3132.3L1265.7 3131.3L1267.2 3131.5L1268.7 3132.3L1270.2 3131.3L1271.7 3131.8L1273.2 3131.1L1274.7 3130.8L1276.2 3132.3L1277.7 3129.9L1279.2 3131.7L1280.7 3130.8L1282.2 3132.2L1283.7 3132.1L1285.2 3132.1L1286.7 3132.5L1288.2 3132.6L1289.7 3129.6L1291.2 3129.9L1292.7 3130.6L1294.2 3128.8L1295.7 3128.9L1297.2 3129.6L1298.7 3131.3L1300.2 3130.0L1301.7 3130.5L1303.2 3130.1L1304.7 3130.7L1306.2 3131.4L1307.7 3130.4L1309.2 3131.1L1310.7 3131.7L1312.2 3131.6L1313.7 3130.7L1315.2 3131.3L1316.7 3130.7L1318.2 3130.6L1319.7 3130.4L1321.2 3130.8L1322.7 3129.9L1324.2 3131.1L1325.7 3130.8L1327.2 3131.0L1328.7 3132.0L1330.2 3132.2L1331.7 3133.0L1333.2 3133.2L1334.7 3132.5L1336.2 3133.5L1337.7 3133.4L1339.2 3132.6L1340.7 3133.0L1342.2 3132.4L1343.7 3132.8L1345.2 3133.5L1346.7 3133.9L1348.2 3133.2L1349.7 3135.0L1351.2 3134.8L1352.7 3134.7L1354.2 3135.2L1355.7 3133.1L1357.2 3132.7L1358.7 3133.8L1360.2 3135.0L1361.7 3133.7L1363.2 3136.0L1364.7 3136.9L1366.2 3137.7L1367.7 3134.9L1369.2 3136.6L1370.7 3135.6L1372.2 3137.3L1373.7 3135.9L1375.2 3137.0L1376.7 3136.5L1378.2 3137.1L1379.7 3138.4L1381.2 3138.3L1382.7 3137.8L1384.2 3138.6L1385.7 3138.8L1387.2 3138.4L1388.7 3136.4L1390.2 3136.9L1391.7 3137.2L1393.2 3136.4L1394.7 3136.0L1396.2 3134.8L1397.7 3137.3L1399.2 3136.3L1400.7 3135.7L1402.2 3136.5L1403.7 3137.7L1405.2 3138.5L1406.7 3138.1L1408.2 3137.8L1409.7 3137.3L1411.2 3135.7L1412.7 3136.2L1414.2 3137.5L1415.7 3136.6L1417.2 3136.8L1418.7 3137.3L1420.2 3137.5L1421.7 3138.0L1423.2 3136.9L1424.7 3136.6L1426.2 3137.1L1427.7 3138.3L1429.2 3138.4L1430.7 3137.0L1432.2 3137.7L1433.7 3138.8L1435.2 3138.0L1436.7 3137.7L1438.2 3136.3L1439.7 3137.5L1441.2 3138.8L1442.7 3140.4L1444.2 3141.3L1445.7 3141.8L1447.2 3141.6L1448.7 3142.5L1450.2 3142.3L1451.7 3143.2L1453.2 3142.4L1454.7 3142.6L1456.2 3141.7L1457.7 3142.4L1459.2 3142.3L1460.7 3144.7L1462.2 3142.4L1463.7 3142.6L1465.2 3144.6L1466.7 3143.2L1468.2 3142.9L1469.7 3144.7L1471.2 3143.6L1472.7 3143.2L1474.2 3145.2L1475.7 3145.9L1477.2 3145.5L1478.7 3146.4L1480.2 3146.0L1481.7 3145.4L1483.2 3146.0L1484.7 3146.7L1486.2 3146.6L1487.7 3145.7L1489.2 3145.6L1490.7 3145.8L1492.2 3145.9L1493.7 3145.2L1495.2 3146.1L1496.7 3146.1L1498.2 3147.5L1499.7 3148.7L1501.2 3147.1L1502.7 3147.5L1504.2 3147.5L1505.7 3147.5L1507.2 3149.4L1508.7 3147.9L1510.2 3147.7L1511.7 3149.4L1513.2 3150.6L1514.7 3150.3L1516.2 3151.3L1517.7 3152.0L1519.2 3151.5L1520.7 3151.9L1522.2 3152.8L1523.7 3153.0L1525.2 3153.7L1526.7 3153.3L1528.2 3152.9L1529.7 3153.2L1531.2 3152.9L1532.7 3151.8L1534.2 3150.9L1535.7 3152.0L1537.2 3152.2L1538.7 3153.5L1540.2 3152.8L1541.7 3153.3L1543.2 3152.8L1544.7 3155.2L1546.2 3155.2L1547.7 3154.3L1549.2 3155.8L1550.7 3156.2L1552.2 3156.1L1553.7 3156.3L1555.2 3155.6L1556.7 3155.8L1558.2 3158.3L1559.7 3158.2L1561.2 3159.2L1562.7 3157.6L1564.2 3158.3L1565.7 3158.1L1567.2 3158.5L1568.7 3157.7L1570.2 3157.3L1571.7 3157.3L1573.2 3157.0L1574.7 3158.1L1576.2 3158.2L1577.7 3157.9L1579.2 3158.7L1580.7 3158.1L1582.2 3160.4" stroke="#000"/>
<path d="M268.2 3169.1L269.7 3170.3L271.2 3169.9L272.7 3170.0L274.2 3171.0L275.7 3169.2L277.2 3169.2L278.7 3170.3L280.2 3169.1L281.7 3170.1L283.2 3169.5L284.7 3168.8L286.2 3169.1L287.7 3168.9L289.2 3169.8L290.7 3171.5L292.2 3171.3L293.7 3170.9L295.2 3169.9L296.7 3168.3L298.2 3167.0L299.7 3167.7L301.2 3167.4L302.7 3167.4L304.2 3168.3L305.7 3167.0L307.2 3166.3L308.7 3167.3L310.2 3168.0L311.7 3167.4L313.2 3168.7L314.7 3168.1L316.2 3168.7L317.7 3169.2L319.2 3166.9L320.7 3167.7L322.2 3168.3L323.7 3167.9L325.2 3169.9L326.7 3168.6L328.2 3168.5L329.7 3169.1L331.2 3167.5L332.7 3167.5L334.2 3166.8L335.7 3167.3L337.2 3167.3L338.7 3167.3L340.2 3169.9L341.7 3168.6L343.2 3168.5L344.7 3168.4L346.2 3165.6L347.7 3166.4L349.2 3168.1L350.7 3168.2L352.2 3168.4L353.7 3168.6L355.2 3167.2L356.7 3166.2L358.2 3167.4L359.7 3167.3L361.2 3166.4L362.7 3165.4L364.2 3164.8L365.7 3165.4L367.2 3165.5L368.7 3166.2L370.2 3165.6L371.7 3165.7L373.2 3166.9L374.7 3167.9L376.2 3166.9L377.7 3167.4L379.2 3167.7L380.7 3168.7L382.2 3167.9L383.7 3168.0L385.2 3167.5L386.7 3167.2L388.2 3167.3L389.7 3168.5L391.2 3167.3L392.7 3169.1L394.2 3170.3L395.7 3170.2L397.2 3168.2L398.7 3168.4L400.2 3167.4L401.7 3165.8L403.2 3167.1L404.7 3166.0L406.2 3165.5L407.7 3164.3L409.2 3165.0L410.7 3165.6L412.2 3166.6L413.7 3166.3L415.2 3166.5L416.7 3164.9L418.2 3164.6L419.7 3165.8L421.2 3164.0L422.7 3164.8L424.2 3165.7L425.7 3165.1L427.2 3164.8L428.7 3165.1L430.2 3163.3L431.7 3163.7L433.2 3163.5L434.7 3164.4L436.2 3164.2L437.7 3165.1L439.2 3164.6L440.7 3165.1L442.2 3163.9L443.7 3164.9L445.2 3163.7L446.7 3163.8L448.2 3163.1L449.7 3162.9L451.2 3163.8L452.7 3164.7L454.2 3164.7L455.7 3164.1L457.2 3164.6L458.7 3165.6L460.2 3166.0L461.7 3165.8L463.2 3163.7L464.7 3165.8L466.2 3164.6L467.7 3164.7L469.2 3166.8L470.7 3164.6L472.2 3164.5L473.7 3163.5L475.2 3163.1L476.7 3163.0L478.2 3164.6L479.7 3163.9L481.2 3163.4L482.7 3163.9L484.2 3163.3L485.7 3163.6L487.2 3165.0L488.7 3163.8L490.2 3164.8L491.7 3162.5L493.2 3163.7L494.7 3162.3L496.2 3162.1L497.7 3161.8L499.2 3161.1L500.7 3160.9L502.2 3160.5L503.7 3162.0L505.2 3161.4L506.7 3159.4L508.2 3159.2L509.7 3160.6L511.2 3161.9L512.7 3161.1L514.2 3160.8L515.7 3160.5L517.2 3161.0L518.7 3161.4L520.2 3161.4L521.7 3161.5L523.2 3162.5L524.7 3162.7L526.2 3160.8L527.7 3160.7L529.2 3161.0L530.7 3159.1L532.2 3159.4L533.7 3159.4L535.2 3160.1L536.7 3159.9L538.2 3158.1L539.7 3158.4L541.2 3158.9L542.7 3160.4L544.2 3160.8L545.7 3161.0L547.2 3160.6L548.7 3160.8L550.2 3160.6L551.7 3159.8L553.2 3158.1L554.7 3158.1L556.2 3157.7L557.7 3160.2L559.2 3157.7L560.7 3159.0L562.2 3157.9L563.7 3158.3L565.2 3156.6L566.7 3156.5L568.2 3156.7L569.7 3157.1L571.2 3156.9L572.7 3154.7L574.2 3156.0L575.7 3156.1L577.2 3155.9L578.7 3155.0L580.2 3155.6L581.7 3155.4L583.2 3156.4L584.7 3155.6L586.2 3156.4L587.7 3156.3L589.2 3156.5L590.7 3154.3L592.2 3154.8L593.7 3154.1L595.2 3154.2L596.7 3153.4L598.2 3155.2L599.7 3154.6L601.2 3154.4L602.7 3153.6L604.2 3153.1L605.7 3152.2L607.2 3154.5L608.7 3155.7L610.2 3155.2L611.7 3156.7L613.2 3155.5L614.7 3153.9L616.2 3155.9L617.7 3156.3L619.2 3155.2L620.7 3154.3L622.2 3154.8L623.7 3153.9L625.2 3153.9L626.7 3153.4L628.2 3153.2L629.7 3153.5L631.2 3152.7L632.7 3152.7L634.2 3153.8L635.7 3153.0L637.2 3153.3L638.7 3153.9L640.2 3153.8L641.7 3152.7L643.2 3154.0L644.7 3152.3L646.2 3152.0L647.7 3151.2L649.2 3151.2L650.7 3152.0L652.2 3151.6L653.7 3151.7L655.2 3151.4L656.7 3149.8L658.2 3149.8L659.7 3150.0L661.2 3150.4L662.7 3150.5L664.2 3150.9L665.7 3151.4L667.2 3151.3L668.7 3150.1L670.2 3149.7L671.7 3151.7L673.2 3149.6L674.7 3150.0L676.2 3149.4L677.7 3148.1L679.2 3150.2L680.7 3150.7L682.2 3150.0L683.7 3149.8L685.2 3149.3L686.7 3149.5L688.2 3151.2L689.7 3150.6L691.2 3149.6L692.7 3149.3L694.2 3150.5L695.7 3149.7L697.2 3149.3L698.7 3150.0L700.2 3150.3L701.7 3150.4L703.2 3150.6L704.7 3149.6L706.2 3150.9L707.7 3148.9L709.2 3149.9L710.7 3149.2L712.2 3148.9L713.7 3149.2L715.2 3149.7L716.7 3149.9L718.2 3150.4L719.7 3147.8L721.2 3149.3L722.7 3149.5L724.2 3149.5L725.7 3149.4L727.2 3149.0L728.7 3150.5L730.2 3151.4L731.7 3152.4L733.2 3152.0L734.7 3150.0L736.2 3151.0L737.7 3148.3L739.2 3148.6L740.7 3148.4L742.2 3148.2L743.7 3149.7L745.2 3148.4L746.7 3148.3L748.2 3148.0L749.7 3148.2L751.2 3148.3L752.7 3148.9L754.2 3148.8L755.7 3148.4L757.2 3147.2L758.7 3147.3L760.2 3148.4L761.7 3147.2L763.2 3148.4L764.7 3148.1L766.2 3147.4L767.7 3148.5L769.2 3146.3L770.7 3147.4L772.2 3147.4L773.7 3147.2L775.2 3145.5L776.7 3145.9L778.2 3145.1L779.7 3144.2L781.2 3145.0L782.7 3145.9L784.2 3146.1L785.7 3144.4L787.2 3145.1L788.7 3145.1L790.2 3143.4L791.7 3145.2L793.2 3145.4L794.7 3146.4L796.2 3146.2L797.7 3146.3L799.2 3146.2L800.7 3145.9L802.2 3147.0L803.7 3146.1L805.2 3145.4L806.7 3146.3L808.2 3148.4L809.7 3148.0L811.2 3147.2L812.7 3148.3L814.2 3146.2L815.7 3146.3L817.2 3146.5L818.7 3146.5L820.2 3145.7L821.7 3145.8L823.2 3145.7L824.7 3145.4L826.2 3145.7L827.7 3144.2L829.2 3144.2L830.7 3143.5L832.2 3143.6L833.7 3143.1L835.2 3142.6L836.7 3142.4L838.2 3142.4L839.7 3142.3L841.2 3142.7L842.7 3144.7L844.2 3143.2L845.7 3143.2L847.2 3143.4L848.7 3143.2L850.2 3142.8L851.7 3142.9L853.2 3141.7L854.7 3141.7L856.2 3141.0L857.7 3139.7L859.2 3141.3L860.7 3140.2L862.2 3139.9L863.7 3140.9L865.2 3139.8L866.7 3140.6L868.2 3139.3L869.7 3138.3L871.2 3138.0L872.7 3139.6L874.2 3139.9L875.7 3139.4L877.2 3140.8L878.7 3140.3L880.2 3139.3L881.7 3140.3L883.2 3140.5L884.7 3139.1L886.2 3140.2L887.7 3140.7L889.2 3140.7L890.7 3140.2L892.2 3139.7L893.7 3138.9L895.2 3139.8L896.7 3139.9L898.2 3140.3L899.7 3139.7L901.2 3140.7L902.7 3139.8L904.2 3139.8L905.7 3140.6L907.2 3140.1L908.7 3140.2L910.2 3139.4L911.7 3137.9L913.2 3138.5L914.7 3137.7L916.2 3137.3L917.7 3137.9L919.2 3137.1L920.7 3137.5L922.2 3137.4L923.7 3138.8L925.2 3138.7L926.7 3137.7L928.2 3137.0L929.7 3137.6L931.2 3135.1L932.7 3135.7L934.2 3137.0L935.7 3137.7L937.2 3138.0L938.7 3136.1L940.2 3137.1L941.7 3137.0L943.2 3136.9L944.7 3137.6L946.2 3139.4L947.7 3139.2L949.2 3137.8L950.7 3136.8L952.2 3136.8L953.7 3138.3L955.2 3136.9L956.7 3135.8L958.2 3135.0L959.7 3136.0L961.2 3136.4L962.7 3135.3L964.2 3136.6L965.7 3136.5L967.2 3136.8L968.7 3135.1L970.2 3135.5L971.7 3135.6L973.2 3135.7L974.7 3135.6L976.2 3134.2L977.7 3134.7L979.2 3135.5L980.7 3133.8L982.2 3134.4L983.7 3135.1L985.2 3136.1L986.7 3135.9L988.2 3137.3L989.7 3136.9L991.2 3136.2L992.7 3134.8L994.2 3134.1L995.7 3132.8L997.2 3133.8L998.7 3133.9L1000.2 3132.7L1001.7 3131.7L1003.2 3132.1L1004.7 3133.7L1006.2 3132.8L1007.7 3131.6L1009.2 3131.4L1010.7 3130.1L1012.2 3130.7L1013.7 3130.6L1015.2 3130.3L1016.7 3129.7L1018.2 3131.0L1019.7 3131.7L1021.2 3131.4L1022.7 3130.9L1024.2 3130.6L1025.7 3128.8L1027.2 3129.2L1028.7 3129.2L1030.2 3130.8L1031.7 3128.7L1033.2 3128.8L1034.7 3130.3L1036.2 3130.2L1037.7 3129.6L1039.2 3129.3L1040.7 3129.6L1042.2 3129.6L1043.7 3128.0L1045.2 3128.9L1046.7 3128.7L1048.2 3129.5L1049.7 3128.1L1051.2 3127.7L1052.7 3127.8L1054.2 3127.0L1055.7 3126.9L1057.2 3129.2L1058.7 3127.5L1060.2 3126.2L1061.7 3126.0L1063.2 3125.3L1064.7 3127.0L1066.2 3125.8L1067.7 3126.9L1069.2 3126.4L1070.7 3125.7L1072.2 3126.4L1073.7 3125.2L1075.2 3124.9L1076.7 3123.4L1078.2 3124.3L1079.7 3125.3L1081.2 3125.0L1082.7 3124.2L1084.2 3124.6L1085.7 3124.9L1087.2 3124.6L1088.7 3124.9L1090.2 3124.3L1091.7 3123.9L1093.2 3123.7L1094.7 3122.4L1096.2 3123.4L1097.7 3122.6L1099.2 3121.8L1100.7 3122.3L1102.2 3122.8L1103.7 3121.5L1105.2 3121.7L1106.7 3120.5L1108.2 3121.1L1109.7 3121.1L1111.2 3121.9L1112.7 3122.7L1114.2 3121.8L1115.7 3121.0L1117.2 3120.4L1118.7 3122.2L1120.2 3121.8L1121.7 3120.4L1123.2 3120.4L1124.7 3120.5L1126.2 3120.9L1127.7 3120.3L1129.2 3120.7L1130.7 3119.6L1132.2 3118.2L1133.7 3118.9L1135.2 3120.3L1136.7 3120.5L1138.2 3119.3L1139.7 3119.3L1141.2 3119.3L1142.7 3118.6L1144.2 3118.9L1145.7 3119.7L1147.2 3117.7L1148.7 3120.2L1150.2 3120.0L1151.7 3120.3L1153.2 3121.5L1154.7 3123.6L1156.2 3122.2L1157.7 3121.8L1159.2 3120.7L1160.7 3119.8L1162.2 3121.0L1163.7 3119.4L1165.2 3119.5L1166.7 3119.6L1168.2 3120.4L1169.7 3120.9L1171.2 3119.5L1172.7 3119.3L1174.2 3118.2L1175.7 3117.4L1177.2 3118.0L1178.7 3117.2L1180.2 3118.4L1181.7 3118.0L1183.2 3117.6L1184.7 3117.7L1186.2 3116.4L1187.7 3116.7L1189.2 3117.0L1190.7 3117.0L1192.2 3116.9L1193.7 3115.8L1195.2 3114.7L1196.7 3115.4L1198.2 3115.9L1199.7 3116.0L1201.2 3115.5L1202.7 3115.6L1204.2 3114.0L1205.7 3114.3L1207.2 3114.8L1208.7 3114.4L1210.2 3113.2L1211.7 3113.6L1213.2 3114.9L1214.7 3115.1L1216.2 3114.7L1217.7 3114.0L1219.2 3113.0L1220.7 3114.0L1222.2 3114.7L1223.7 3113.9L1225.2 3113.2L1226.7 3112.2L1228.2 3112.2L1229.7 3112.5L1231.2 3113.7L1232.7 3113.7L1234.2 3112.6L1235.7 3113.9L1237.2 3114.3L1238.7 3113.4L1240.2 3113.6L1241.7 3113.5L1243.2 3112.6L1244.7 3113.3L1246.2 3112.3L1247.7 3111.5L1249.2 3111.3L1250.7 3112.3L1252.2 3110.9L1253.7 3111.1L1255.2 3111.7L1256.7 3112.4L1258.2 3111.0L1259.7 3111.9L1261.2 3111.7L1262.7 3110.6L1264.2 3110.9L1265.7 3111.5L1267.2 3110.0L1268.7 3108.4L1270.2 3108.1L1271.7 3109.6L1273.2 3108.0L1274.7 3109.7L1276.2 3108.8L1277.7 3106.4L1279.2 3107.5L1280.7 3107.5L1282.2 3106.5L1283.7 3105.0L1285.2 3106.3L1286.7 3107.3L1288.2 3106.3L1289.7 3106.1L1291.2 3106.8L1292.7 3107.7L1294.2 3106.8L1295.7 3107.1L1297.2 3104.2L1298.7 3102.8L1300.2 3104.5L1301.7 3103.4L1303.2 3102.0L1304.7 3101.1L1306.2 3102.6L1307.7 3102.3L1309.2 3103.4L1310.7 3103.5L1312.2 3102.4L1313.7 3102.9L1315.2 3101.6L1316.7 3100.1L1318.2 3100.7L1319.7 3100.7L1321.2 3099.3L1322.7 3097.7L1324.2 3097.8L1325.7 3096.9L1327.2 3096.0L1328.7 3096.9L1330.2 3096.8L1331.7 3096.4L1333.2 3097.0L1334.7 3096.2L1336.2 3096.0L1337.7 3096.3L1339.2 3094.6L1340.7 3094.2L1342.2 3093.7L1343.7 3093.7L1345.2 3092.9L1346.7 3092.7L1348.2 3092.8L1349.7 3091.7L1351.2 3090.5L1352.7 3089.2L1354.2 3089.5L1355.7 3088.9L1357.2 3087.4L1358.7 3085.7L1360.2 3086.2L1361.7 3084.7L1363.2 3085.0L1364.7 3083.9L1366.2 3083.2L1367.7 3082.9L1369.2 3082.9L1370.7 3082.0L1372.2 3081.8L1373.7 3080.7L1375.2 3080.8L1376.7 3080.6L1378.2 3079.4L1379.7 3077.2L1381.2 3076.8L1382.7 3076.3L1384.2 3074.9L1385.7 3074.3L1387.2 3073.6L1388.7 3072.9L1390.2 3072.8L1391.7 3072.6L1393.2 3071.1L1394.7 3070.0L1396.2 3068.5L1397.7 3067.3L1399.2 3065.6L1400.7 3064.8L1402.2 3063.5L1403.7 3062.1L1405.2 3060.8L1406.7 3058.3L1408.2 3057.5L1409.7 3055.6L1411.2 3053.7L1412.7 3052.0L1414.2 3050.2L1415.7 3048.5L1417.2 3045.8L1418.7 3043.9L1420.2 3042.0L1421.7 3039.2L1423.2 3037.1L1424.7 3034.2L1426.2 3031.9L1427.7 3028.5L1429.2 3025.5L1430.7 3022.5L1432.2 3019.8L1433.7 3016.4L1435.2 3013.4L1436.7 3010.1L1438.2 3006.5L1439.7 3003.1L1441.2 2999.4L1442.7 2995.7L1444.2 2992.5L1445.7 2987.9L1447.2 2983.6L1448.7 2979.7L1450.2 2975.8L1451.7 2971.9L1453.2 2967.2L1454.7 2962.7L1456.2 2958.8L1457.7 2954.2L1459.2 2949.4L1460.7 2944.8L1462.2 2939.7L1463.7 2935.0L1465.2 2930.1L1466.7 2924.7L1468.2 2920.2L1469.7 2915.2L1471.2 2910.1L1472.7 2905.4L1474.2 2900.4L1475.7 2894.7L1477.2 2889.2L1478.7 2884.7L1480.2 2879.5L1481.7 2875.4L1483.2 2871.6L1484.7 2866.2L1486.2 2862.6L1487.7 2858.5L1489.2 2854.9L1490.7 2851.6L1492.2 2848.1L1493.7 2844.6L1495.2 2840.8L1496.7 2836.9L1498.2 2833.6L1499.7 2830.8L1501.2 2827.8L1502.7 2825.8L1504.2 2823.4L1505.7 2820.8L1507.2 2819.4L1508.7 2817.8L1510.2 2816.4L1511.7 2814.2L1513.2 2811.2L1514.7 2809.7L1516.2 2809.0L1517.7 2808.1L1519.2 2806.5L1520.7 2804.6L1522.2 2802.8L1523.7 2801.0L1525.2 2800.0L1526.7 2799.5L1528.2 2797.9L1529.7 2796.4L1531.2 2793.7L1532.7 2792.8L1534.2 2790.8L1535.7 2788.9L1537.2 2787.4L1538.7 2786.2L1540.2 2783.5L1541.7 2781.5L1543.2 2779.8L1544.7 2778.2L1546.2 2776.1L1547.7 2774.3L1549.2 2772.5L1550.7 2770.4L1552.2 2767.9L1553.7 2766.8L1555.2 2766.3L1556.7 2763.5L1558.2 2762.4L1559.7 2761.2L1561.2 2761.2L1562.7 2761.1L1564.2 2760.7L1565.7 2759.3L1567.2 2759.3L1568.7 2759.6L1570.2 2760.6L1571.7 2762.4L1573.2 2763.6L1574.7 2766.4L1576.2 2769.5L1577.7 2773.9L1579.2 2778.6L1580.7 2783.4L1582.2 2788.2" stroke="#f00"/>
<path d="M268.2 3240.6L269.7 3240.2L271.2 3239.1L272.7 3236.8L274.2 3238.3L275.7 3238.3L277.2 3238.5L278.7 3239.2L280.2 3240.5L281.7 3240.1L283.2 3238.8L284.7 3238.5L286.2 3238.8L287.7 3240.5L289.2 3238.1L290.7 3236.5L292.2 3237.2L293.7 3237.2L295.2 3238.4L296.7 3239.3L298.2 3239.2L299.7 3239.1L301.2 3239.4L302.7 3237.6L304.2 3238.0L305.7 3236.4L307.2 3237.2L308.7 3238.3L310.2 3238.1L311.7 3238.4L313.2 3237.3L314.7 3238.4L316.2 3236.4L317.7 3237.7L319.2 3237.6L320.7 3236.7L322.2 3237.2L323.7 3236.0L325.2 3238.3L326.7 3237.3L328.2 3236.0L329.7 3236.5L331.2 3236.8L332.7 3236.0L334.2 3236.5L335.7 3237.0L337.2 3236.0L338.7 3235.9L340.2 3234.7L341.7 3235.5L343.2 3234.7L344.7 3235.0L346.2 3235.9L347.7 3236.8L349.2 3235.5L350.7 3235.5L352.2 3234.4L353.7 3234.9L355.2 3235.4L356.7 3234.6L358.2 3235.3L359.7 3234.1L361.2 3233.1L362.7 3232.0L364.2 3234.1L365.7 3233.6L367.2 3232.5L368.7 3231.4L370.2 3232.1L371.7 3233.9L373.2 3232.5L374.7 3235.8L376.2 3236.3L377.7 3235.7L379.2 3236.7L380.7 3234.7L382.2 3233.3L383.7 3234.3L385.2 3234.8L386.7 3235.3L388.2 3233.4L389.7 3232.5L391.2 3233.2L392.7 3233.9L394.2 3232.7L395.7 3232.5L397.2 3232.5L398.7 3231.2L400.2 3231.1L401.7 3232.3L403.2 3232.1L404.7 3232.4L406.2 3232.6L407.7 3232.6L409.2 3232.7L410.7 3233.5L412.2 3233.8L413.7 3232.8L415.2 3233.1L416.7 3232.8L418.2 3233.0L419.7 3232.4L421.2 3233.2L422.7 3232.1L424.2 3233.4L425.7 3232.6L427.2 3232.1L428.7 3232.4L430.2 3233.1L431.7 3233.0L433.2 3232.3L434.7 3234.6L436.2 3234.3L437.7 3233.5L439.2 3232.9L440.7 3234.6L442.2 3234.1L443.7 3235.0L445.2 3234.2L446.7 3231.9L448.2 3232.1L449.7 3231.2L451.2 3231.5L452.7 3230.2L454.2 3230.3L455.7 3232.4L457.2 3231.6L458.7 3231.3L460.2 3231.3L461.7 3232.0L463.2 3231.0L464.7 3232.0L466.2 3231.2L467.7 3229.3L469.2 3230.8L470.7 3230.1L472.2 3231.1L473.7 3229.8L475.2 3229.2L476.7 3228.4L478.2 3230.1L479.7 3230.6L481.2 3229.6L482.7 3228.0L484.2 3228.0L485.7 3228.4L487.2 3227.5L488.7 3228.3L490.2 3228.0L491.7 3228.2L493.2 3228.5L494.7 3227.2L496.2 3227.5L497.7 3228.5L499.2 3228.0L500.7 3226.9L502.2 3226.0L503.7 3228.1L505.2 3230.2L506.7 3228.1L508.2 3228.5L509.7 3228.1L511.2 3227.2L512.7 3226.3L514.2 3224.1L515.7 3225.0L517.2 3223.5L518.7 3224.2L520.2 3225.1L521.7 3224.2L523.2 3224.0L524.7 3223.7L526.2 3223.5L527.7 3223.7L529.2 3224.2L530.7 3224.0L532.2 3223.7L533.7 3224.2L535.2 3223.6L536.7 3223.2L538.2 3222.2L539.7 3223.5L541.2 3223.4L542.7 3223.2L544.2 3222.9L545.7 3224.4L547.2 3224.1L548.7 3223.8L550.2 3222.3L551.7 3222.5L553.2 3221.9L554.7 3221.6L556.2 3221.3L557.7 3222.9L559.2 3222.7L560.7 3223.1L562.2 3223.3L563.7 3222.2L565.2 3221.5L566.7 3221.1L568.2 3220.7L569.7 3219.6L571.2 3221.0L572.7 3220.7L574.2 3220.1L575.7 3220.0L577.2 3220.7L578.7 3219.3L580.2 3221.0L581.7 3221.5L583.2 3221.0L584.7 3221.9L586.2 3221.8L587.7 3220.0L589.2 3219.9L590.7 3219.2L592.2 3219.0L593.7 3219.0L595.2 3219.4L596.7 3218.9L598.2 3219.7L599.7 3220.8L601.2 3219.4L602.7 3222.1L604.2 3220.9L605.7 3220.6L607.2 3220.9L608.7 3219.8L610.2 3219.4L611.7 3219.2L613.2 3218.1L614.7 3219.0L616.2 3218.0L617.7 3217.5L619.2 3217.2L620.7 3216.5L622.2 3216.8L623.7 3215.5L625.2 3216.2L626.7 3216.1L628.2 3215.7L629.7 3216.5L631.2 3217.4L632.7 3217.6L634.2 3217.7L635.7 3217.1L637.2 3216.1L638.7 3215.3L640.2 3215.2L641.7 3216.0L643.2 3215.1L644.7 3215.2L646.2 3216.2L647.7 3214.8L649.2 3214.1L650.7 3213.7L652.2 3213.6L653.7 3214.0L655.2 3214.1L656.7 3213.0L658.2 3214.6L659.7 3212.9L661.2 3212.0L662.7 3213.6L664.2 3213.3L665.7 3213.9L667.2 3214.3L668.7 3213.3L670.2 3213.0L671.7 3212.8L673.2 3213.9L674.7 3213.8L676.2 3212.6L677.7 3211.8L679.2 3213.2L680.7 3211.4L682.2 3211.6L683.7 3210.9L685.2 3210.2L686.7 3210.1L688.2 3212.2L689.7 3212.4L691.2 3212.8L692.7 3212.8L694.2 3212.8L695.7 3212.5L697.2 3213.1L698.7 3212.4L700.2 3211.4L701.7 3211.3L703.2 3210.7L704.7 3210.7L706.2 3210.7L707.7 3210.5L709.2 3210.1L710.7 3208.2L712.2 3209.7L713.7 3209.4L715.2 3209.3L716.7 3208.7L718.2 3209.8L719.7 3208.0L721.2 3207.2L722.7 3206.4L724.2 3207.1L725.7 3206.5L727.2 3206.6L728.7 3206.0L730.2 3207.4L731.7 3206.9L733.2 3205.7L734.7 3207.1L736.2 3207.6L737.7 3205.5L739.2 3206.3L740.7 3206.7L742.2 3204.0L743.7 3204.4L745.2 3204.9L746.7 3204.7L748.2 3204.3L749.7 3204.2L751.2 3203.9L752.7 3204.5L754.2 3203.4L755.7 3203.4L757.2 3202.5L758.7 3201.6L760.2 3201.9L761.7 3202.4L763.2 3202.1L764.7 3200.7L766.2 3201.3L767.7 3201.9L769.2 3201.9L770.7 3203.1L772.2 3204.2L773.7 3202.6L775.2 3202.3L776.7 3203.3L778.2 3202.0L779.7 3201.4L781.2 3202.0L782.7 3200.3L784.2 3199.8L785.7 3200.0L787.2 3201.4L788.7 3200.4L790.2 3201.4L791.7 3200.7L793.2 3198.0L794.7 3198.3L796.2 3198.8L797.7 3198.6L799.2 3197.8L800.7 3198.0L802.2 3197.3L803.7 3198.2L805.2 3197.7L806.7 3198.7L808.2 3196.6L809.7 3198.1L811.2 3198.1L812.7 3198.0L814.2 3197.1L815.7 3196.4L817.2 3196.2L818.7 3196.5L820.2 3196.0L821.7 3195.8L823.2 3195.4L824.7 3194.7L826.2 3194.6L827.7 3195.2L829.2 3195.3L830.7 3194.5L832.2 3194.3L833.7 3194.1L835.2 3192.8L836.7 3194.0L838.2 3194.5L839.7 3194.2L841.2 3192.8L842.7 3191.3L844.2 3191.6L845.7 3191.2L847.2 3191.7L848.7 3192.0L850.2 3190.5L851.7 3189.7L853.2 3190.7L854.7 3191.5L856.2 3190.5L857.7 3188.5L859.2 3188.5L860.7 3188.8L862.2 3188.5L863.7 3187.9L865.2 3187.8L866.7 3187.6L868.2 3186.2L869.7 3185.2L871.2 3185.3L872.7 3185.2L874.2 3184.4L875.7 3184.4L877.2 3186.4L878.7 3184.3L880.2 3185.4L881.7 3184.6L883.2 3182.4L884.7 3182.8L886.2 3182.1L887.7 3182.1L889.2 3182.6L890.7 3180.6L892.2 3180.1L893.7 3181.6L895.2 3182.0L896.7 3181.6L898.2 3181.0L899.7 3182.3L901.2 3182.2L902.7 3183.6L904.2 3184.5L905.7 3184.3L907.2 3183.5L908.7 3183.3L910.2 3182.1L911.7 3180.6L913.2 3181.8L914.7 3181.1L916.2 3180.5L917.7 3178.9L919.2 3178.9L920.7 3177.9L922.2 3177.2L923.7 3177.3L925.2 3177.3L926.7 3177.2L928.2 3177.1L929.7 3176.6L931.2 3177.9L932.7 3177.9L934.2 3178.7L935.7 3177.3L937.2 3178.0L938.7 3179.6L940.2 3178.7L941.7 3178.7L943.2 3177.7L944.7 3176.6L946.2 3176.2L947.7 3176.9L949.2 3177.3L950.7 3176.1L952.2 3175.8L953.7 3175.6L955.2 3175.6L956.7 3176.4L958.2 3177.1L959.7 3176.4L961.2 3177.2L962.7 3176.1L964.2 3175.2L965.7 3175.6L967.2 3175.5L968.7 3175.1L970.2 3175.2L971.7 3175.5L973.2 3174.9L974.7 3172.5L976.2 3172.8L977.7 3173.0L979.2 3171.9L980.7 3173.8L982.2 3174.9L983.7 3174.7L985.2 3176.3L986.7 3175.5L988.2 3174.1L989.7 3174.2L991.2 3171.9L992.7 3171.7L994.2 3172.1L995.7 3171.5L997.2 3170.6L998.7 3170.0L1000.2 3168.5L1001.7 3169.8L1003.2 3169.2L1004.7 3168.6L1006.2 3167.5L1007.7 3167.6L1009.2 3168.2L1010.7 3169.0L1012.2 3168.8L1013.7 3168.2L1015.2 3169.9L1016.7 3169.2L1018.2 3169.5L1019.7 3169.6L1021.2 3169.9L1022.7 3171.2L1024.2 3171.9L1025.7 3171.6L1027.2 3172.5L1028.7 3171.7L1030.2 3171.3L1031.7 3169.4L1033.2 3171.5L1034.7 3170.9L1036.2 3169.1L1037.7 3169.4L1039.2 3171.1L1040.7 3171.0L1042.2 3169.8L1043.7 3170.9L1045.2 3170.8L1046.7 3169.3L1048.2 3169.8L1049.7 3169.6L1051.2 3168.7L1052.7 3168.3L1054.2 3167.3L1055.7 3168.3L1057.2 3168.4L1058.7 3168.3L1060.2 3168.7L1061.7 3168.2L1063.2 3167.3L1064.7 3167.1L1066.2 3167.3L1067.7 3167.5L1069.2 3168.5L1070.7 3168.5L1072.2 3165.5L1073.7 3165.4L1075.2 3166.0L1076.7 3166.1L1078.2 3165.1L1079.7 3163.8L1081.2 3163.8L1082.7 3165.0L1084.2 3163.4L1085.7 3163.2L1087.2 3164.2L1088.7 3165.1L1090.2 3165.0L1091.7 3164.2L1093.2 3165.2L1094.7 3166.6L1096.2 3164.8L1097.7 3165.3L1099.2 3164.5L1100.7 3163.1L1102.2 3162.6L1103.7 3162.7L1105.2 3162.7L1106.7 3162.7L1108.2 3165.0L1109.7 3164.4L1111.2 3163.5L1112.7 3163.1L1114.2 3162.8L1115.7 3161.5L1117.2 3161.5L1118.7 3161.4L1120.2 3161.5L1121.7 3163.7L1123.2 3162.1L1124.7 3163.6L1126.2 3163.1L1127.7 3161.2L1129.2 3162.2L1130.7 3162.0L1132.2 3161.3L1133.7 3161.8L1135.2 3161.3L1136.7 3161.8L1138.2 3161.7L1139.7 3161.9L1141.2 3161.4L1142.7 3162.1L1144.2 3159.7L1145.7 3158.6L1147.2 3160.2L1148.7 3159.2L1150.2 3157.3L1151.7 3158.1L1153.2 3156.2L1154.7 3158.2L1156.2 3157.7L1157.7 3159.1L1159.2 3159.0L1160.7 3158.8L1162.2 3157.9L1163.7 3156.3L1165.2 3156.0L1166.7 3155.9L1168.2 3155.3L1169.7 3156.5L1171.2 3156.0L1172.7 3155.1L1174.2 3155.9L1175.7 3155.3L1177.2 3155.4L1178.7 3154.4L1180.2 3154.0L1181.7 3153.9L1183.2 3154.1L1184.7 3153.0L1186.2 3153.5L1187.7 3153.1L1189.2 3152.8L1190.7 3153.5L1192.2 3153.6L1193.7 3152.5L1195.2 3152.1L1196.7 3152.2L1198.2 3151.0L1199.7 3151.4L1201.2 3150.9L1202.7 3151.6L1204.2 3151.2L1205.7 3150.3L1207.2 3151.4L1208.7 3152.7L1210.2 3152.4L1211.7 3150.3L1213.2 3150.6L1214.7 3148.5L1216.2 3147.6L1217.7 3146.4L1219.2 3148.2L1220.7 3146.5L1222.2 3145.8L1223.7 3145.9L1225.2 3145.5L1226.7 3145.5L1228.2 3147.0L1229.7 3144.1L1231.2 3144.4L1232.7 3143.9L1234.2 3143.9L1235.7 3143.2L1237.2 3142.6L1238.7 3142.0L1240.2 3143.0L1241.7 3140.8L1243.2 3139.8L1244.7 3139.5L1246.2 3138.5L1247.7 3138.1L1249.2 3138.5L1250.7 3137.9L1252.2 3136.7L1253.7 3136.4L1255.2 3135.3L1256.7 3134.7L1258.2 3133.6L1259.7 3133.4L1261.2 3134.5L1262.7 3134.7L1264.2 3133.7L1265.7 3133.5L1267.2 3132.8L1268.7 3132.2L1270.2 3132.0L1271.7 3133.0L1273.2 3132.3L1274.7 3131.0L1276.2 3130.7L1277.7 3130.2L1279.2 3129.0L1280.7 3128.7L1282.2 3127.4L1283.7 3126.9L1285.2 3126.0L1286.7 3126.4L1288.2 3125.4L1289.7 3125.3L1291.2 3124.5L1292.7 3123.6L1294.2 3123.5L1295.7 3123.0L1297.2 3121.8L1298.7 3120.6L1300.2 3120.0L1301.7 3119.7L1303.2 3119.3L1304.7 3118.6L1306.2 3119.5L1307.7 3119.5L1309.2 3117.9L1310.7 3117.9L1312.2 3117.1L1313.7 3116.0L1315.2 3117.0L1316.7 3116.1L1318.2 3116.5L1319.7 3116.9L1321.2 3115.8L1322.7 3117.0L1324.2 3117.0L1325.7 3116.3L1327.2 3116.1L1328.7 3117.5L1330.2 3118.0L1331.7 3118.3L1333.2 3116.0L1334.7 3114.9L1336.2 3114.6L1337.7 3114.1L1339.2 3114.2L1340.7 3114.7L1342.2 3113.6L1343.7 3113.7L1345.2 3114.4L1346.7 3114.3L1348.2 3114.4L1349.7 3114.1L1351.2 3115.2L1352.7 3114.5L1354.2 3115.0L1355.7 3114.6L1357.2 3114.8L1358.7 3115.2L1360.2 3115.4L1361.7 3115.4L1363.2 3114.4L1364.7 3113.1L1366.2 3112.5L1367.7 3113.1L1369.2 3113.1L1370.7 3113.9L1372.2 3113.0L1373.7 3113.7L1375.2 3113.3L1376.7 3111.1L1378.2 3112.1L1379.7 3114.2L1381.2 3113.2L1382.7 3113.7L1384.2 3112.9L1385.7 3112.7L1387.2 3110.3L1388.7 3111.7L1390.2 3111.5L1391.7 3111.3L1393.2 3111.9L1394.7 3111.5L1396.2 3110.7L1397.7 3111.6L1399.2 3110.3L1400.7 3109.9L1402.2 3108.5L1403.7 3109.3L1405.2 3108.1L1406.7 3106.8L1408.2 3106.8L1409.7 3108.5L1411.2 3108.0L1412.7 3106.5L1414.2 3106.6L1415.7 3106.3L1417.2 3105.5L1418.7 3104.9L1420.2 3103.8L1421.7 3103.5L1423.2 3103.1L1424.7 3102.4L1426.2 3102.5L1427.7 3103.0L1429.2 3102.1L1430.7 3101.4L1432.2 3101.2L1433.7 3099.6L1435.2 3098.9L1436.7 3099.1L1438.2 3098.7L1439.7 3098.2L1441.2 3097.5L1442.7 3098.3L1444.2 3097.4L1445.7 3096.4L1447.2 3097.3L1448.7 3095.2L1450.2 3095.3L1451.7 3093.7L1453.2 3093.4L1454.7 3091.5L1456.2 3092.0L1457.7 3090.7L1459.2 3091.4L1460.7 3092.6L1462.2 3091.8L1463.7 3093.1L1465.2 3092.8L1466.7 3091.7L1468.2 3090.9L1469.7 3090.6L1471.2 3089.3L1472.7 3089.1L1474.2 3088.6L1475.7 3088.6L1477.2 3089.3L1478.7 3088.0L1480.2 3088.0L1481.7 3087.6L1483.2 3086.5L1484.7 3084.9L1486.2 3084.2L1487.7 3085.1L1489.2 3085.0L1490.7 3083.3L1492.2 3082.8L1493.7 3081.4L1495.2 3081.2L1496.7 3081.1L1498.2 3079.9L1499.7 3078.5L1501.2 3078.9L1502.7 3078.8L1504.2 3077.5L1505.7 3077.2L1507.2 3077.3L1508.7 3075.9L1510.2 3074.5L1511.7 3073.6L1513.2 3073.4L1514.7 3072.4L1516.2 3071.9L1517.7 3070.4L1519.2 3069.6L1520.7 3067.6L1522.2 3067.0L1523.7 3065.9L1525.2 3066.2L1526.7 3065.1L1528.2 3063.2L1529.7 3063.0L1531.2 3061.6L1532.7 3060.1L1534.2 3058.8L1535.7 3057.3L1537.2 3055.7L1538.7 3053.8L1540.2 3052.2L1541.7 3050.0L1543.2 3048.6L1544.7 3046.3L1546.2 3045.3L1547.7 3043.8L1549.2 3042.7L1550.7 3040.2L1552.2 3038.1L1553.7 3036.3L1555.2 3034.2L1556.7 3032.8L1558.2 3030.3L1559.7 3028.5L1561.2 3026.3L1562.7 3024.4L1564.2 3021.9L1565.7 3019.9L1567.2 3017.3L1568.7 3014.8L1570.2 3010.9L1571.7 3009.5L1573.2 3007.1L1574.7 3004.6L1576.2 3002.3L1577.7 2999.7L1579.2 2997.8L1580.7 2996.3L1582.2 2993.7" stroke="#0f0"/>
<path d="M268.2 3213.1L269.7 3212.5L271.2 3210.5L272.7 3209.7L274.2 3209.6L275.7 3209.7L277.2 3210.0L278.7 3208.7L280.2 3209.3L281.7 3210.2L283.2 3209.7L284.7 3209.6L286.2 3209.0L287.7 3209.0L289.2 3209.7L290.7 3209.3L292.2 3207.7L293.7 3209.0L295.2 3207.2L296.7 3207.8L298.2 3207.1L299.7 3207.1L301.2 3207.3L302.7 3208.5L304.2 3208.6L305.7 3209.3L307.2 3209.3L308.7 3208.9L310.2 3210.0L311.7 3210.7L313.2 3210.3L314.7 3209.6L316.2 3207.7L317.7 3207.9L319.2 3207.5L320.7 3208.2L322.2 3208.0L323.7 3208.4L325.2 3209.1L326.7 3209.2L328.2 3207.2L329.7 3207.8L331.2 3209.0L332.7 3209.4L334.2 3209.5L335.7 3210.2L337.2 3208.0L338.7 3207.2L340.2 3208.4L341.7 3208.1L343.2 3209.2L344.7 3210.3L346.2 3209.5L347.7 3209.3L349.2 3209.2L350.7 3209.1L352.2 3208.4L353.7 3208.3L355.2 3207.6L356.7 3206.4L358.2 3206.3L359.7 3206.4L361.2 3205.5L362.7 3206.0L364.2 3206.2L365.7 3206.7L367.2 3206.7L368.7 3204.9L370.2 3205.7L371.7 3205.7L373.2 3205.4L374.7 3204.2L376.2 3205.8L377.7 3204.8L379.2 3205.5L380.7 3204.4L382.2 3202.6L383.7 3203.9L385.2 3204.4L386.7 3204.0L388.2 3204.7L389.7 3204.8L391.2 3204.4L392.7 3205.3L394.2 3205.7L395.7 3205.4L397.2 3205.8L398.7 3205.0L400.2 3204.8L401.7 3204.6L403.2 3204.5L404.7 3205.3L406.2 3204.4L407.7 3206.5L409.2 3207.0L410.7 3207.1L412.2 3205.8L413.7 3204.6L415.2 3204.6L416.7 3203.8L418.2 3204.5L419.7 3205.1L421.2 3205.4L422.7 3203.6L424.2 3204.4L425.7 3203.5L427.2 3203.4L428.7 3204.1L430.2 3203.3L431.7 3202.4L433.2 3203.0L434.7 3204.6L436.2 3204.2L437.7 3204.2L439.2 3203.9L440.7 3203.4L442.2 3202.3L443.7 3202.2L445.2 3202.9L446.7 3202.8L448.2 3203.7L449.7 3204.6L451.2 3202.2L452.7 3202.2L454.2 3202.5L455.7 3200.4L457.2 3201.2L458.7 3201.5L460.2 3201.7L461.7 3203.1L463.2 3200.3L464.7 3200.4L466.2 3199.8L467.7 3199.6L469.2 3199.6L470.7 3201.2L472.2 3199.7L473.7 3199.4L475.2 3199.5L476.7 3200.3L478.2 3199.3L479.7 3199.5L481.2 3199.7L482.7 3199.1L484.2 3197.5L485.7 3197.5L487.2 3197.7L488.7 3198.3L490.2 3198.7L491.7 3198.2L493.2 3198.4L494.7 3198.4L496.2 3198.0L497.7 3198.2L499.2 3197.8L500.7 3197.1L502.2 3198.0L503.7 3197.4L505.2 3198.3L506.7 3196.9L508.2 3198.1L509.7 3198.4L511.2 3197.8L512.7 3200.0L514.2 3200.1L515.7 3199.2L517.2 3198.5L518.7 3196.1L520.2 3197.3L521.7 3197.3L523.2 3196.6L524.7 3194.8L526.2 3193.7L527.7 3193.3L529.2 3192.8L530.7 3194.5L532.2 3193.4L533.7 3193.4L535.2 3193.8L536.7 3195.1L538.2 3193.1L539.7 3193.4L541.2 3193.4L542.7 3193.5L544.2 3192.9L545.7 3192.3L547.2 3193.5L548.7 3193.5L550.2 3194.5L551.7 3194.2L553.2 3193.4L554.7 3194.2L556.2 3192.6L557.7 3195.0L559.2 3193.1L560.7 3192.4L562.2 3193.7L563.7 3192.2L565.2 3192.4L566.7 3190.9L568.2 3191.0L569.7 3193.4L571.2 3191.8L572.7 3192.6L574.2 3193.0L575.7 3193.0L577.2 3193.4L578.7 3192.8L580.2 3193.5L581.7 3194.1L583.2 3193.5L584.7 3192.8L586.2 3192.1L587.7 3193.1L589.2 3192.7L590.7 3191.6L592.2 3191.8L593.7 3191.0L595.2 3190.8L596.7 3189.6L598.2 3189.7L599.7 3189.9L601.2 3189.1L602.7 3188.4L604.2 3189.1L605.7 3188.9L607.2 3188.1L608.7 3188.7L610.2 3189.9L611.7 3190.3L613.2 3190.1L614.7 3189.9L616.2 3189.6L617.7 3190.5L619.2 3189.7L620.7 3189.2L622.2 3188.8L623.7 3187.5L625.2 3186.8L626.7 3188.2L628.2 3187.2L629.7 3187.1L631.2 3184.3L632.7 3185.5L634.2 3186.1L635.7 3186.4L637.2 3185.7L638.7 3185.2L640.2 3185.8L641.7 3186.2L643.2 3187.5L644.7 3186.9L646.2 3185.0L647.7 3186.5L649.2 3184.2L650.7 3184.8L652.2 3184.1L653.7 3185.0L655.2 3184.2L656.7 3184.5L658.2 3182.8L659.7 3184.3L661.2 3184.0L662.7 3182.4L664.2 3183.2L665.7 3182.2L667.2 3183.3L668.7 3184.0L670.2 3181.6L671.7 3181.5L673.2 3182.3L674.7 3182.9L676.2 3180.6L677.7 3180.1L679.2 3180.7L680.7 3181.5L682.2 3182.4L683.7 3180.7L685.2 3181.4L686.7 3182.2L688.2 3180.3L689.7 3180.1L691.2 3179.6L692.7 3178.8L694.2 3179.0L695.7 3178.8L697.2 3178.1L698.7 3179.1L700.2 3179.2L701.7 3180.3L703.2 3179.3L704.7 3179.8L706.2 3179.2L707.7 3179.5L709.2 3179.7L710.7 3179.5L712.2 3180.3L713.7 3179.8L715.2 3181.2L716.7 3180.8L718.2 3180.2L719.7 3178.9L721.2 3179.3L722.7 3179.0L724.2 3178.0L725.7 3177.3L727.2 3177.9L728.7 3178.5L730.2 3178.4L731.7 3178.0L733.2 3176.5L734.7 3175.9L736.2 3178.1L737.7 3177.2L739.2 3176.1L740.7 3174.9L742.2 3174.5L743.7 3176.2L745.2 3175.7L746.7 3175.0L748.2 3173.6L749.7 3174.3L751.2 3174.7L752.7 3174.2L754.2 3174.2L755.7 3172.7L757.2 3172.4L758.7 3172.1L760.2 3171.8L761.7 3172.1L763.2 3171.9L764.7 3170.9L766.2 3171.8L767.7 3172.1L769.2 3172.3L770.7 3172.0L772.2 3172.0L773.7 3172.6L775.2 3172.2L776.7 3172.2L778.2 3169.3L779.7 3170.7L781.2 3172.1L782.7 3169.2L784.2 3169.0L785.7 3169.3L787.2 3169.7L788.7 3168.8L790.2 3168.3L791.7 3169.0L793.2 3167.3L794.7 3168.8L796.2 3169.0L797.7 3167.9L799.2 3168.6L800.7 3168.3L802.2 3166.7L803.7 3166.1L805.2 3166.7L806.7 3166.7L808.2 3166.8L809.7 3165.8L811.2 3166.0L812.7 3165.8L814.2 3165.8L815.7 3165.7L817.2 3165.0L818.7 3165.2L820.2 3165.0L821.7 3165.0L823.2 3163.8L824.7 3163.7L826.2 3163.6L827.7 3162.6L829.2 3163.3L830.7 3164.5L832.2 3165.4L833.7 3165.7L835.2 3164.6L836.7 3164.1L838.2 3162.0L839.7 3161.6L841.2 3161.1L842.7 3160.1L844.2 3159.4L845.7 3159.5L847.2 3157.8L848.7 3158.7L850.2 3160.0L851.7 3159.3L853.2 3158.6L854.7 3159.0L856.2 3158.1L857.7 3157.6L859.2 3158.9L860.7 3156.8L862.2 3156.6L863.7 3156.2L865.2 3155.4L866.7 3154.9L868.2 3154.7L869.7 3154.7L871.2 3154.8L872.7 3153.9L874.2 3153.1L875.7 3153.3L877.2 3152.7L878.7 3153.0L880.2 3152.0L881.7 3152.4L883.2 3152.8L884.7 3153.3L886.2 3154.1L887.7 3152.6L889.2 3150.8L890.7 3150.8L892.2 3149.7L893.7 3149.7L895.2 3148.5L896.7 3148.0L898.2 3147.5L899.7 3146.8L901.2 3146.2L902.7 3147.0L904.2 3146.0L905.7 3145.9L907.2 3145.7L908.7 3147.9L910.2 3149.4L911.7 3147.3L913.2 3147.9L914.7 3146.2L916.2 3146.0L917.7 3146.2L919.2 3144.2L920.7 3145.1L922.2 3144.9L923.7 3145.5L925.2 3144.7L926.7 3143.2L928.2 3143.3L929.7 3143.1L931.2 3142.6L932.7 3142.3L934.2 3143.8L935.7 3143.2L937.2 3142.9L938.7 3144.4L940.2 3142.9L941.7 3141.4L943.2 3141.5L944.7 3140.7L946.2 3138.9L947.7 3138.7L949.2 3139.7L950.7 3139.1L952.2 3138.8L953.7 3139.9L955.2 3139.1L956.7 3138.0L958.2 3136.6L959.7 3136.3L961.2 3136.4L962.7 3134.9L964.2 3134.5L965.7 3134.6L967.2 3133.4L968.7 3133.2L970.2 3131.5L971.7 3131.8L973.2 3132.3L974.7 3133.5L976.2 3132.6L977.7 3131.8L979.2 3132.1L980.7 3131.4L982.2 3130.8L983.7 3130.5L985.2 3130.0L986.7 3129.5L988.2 3129.9L989.7 3129.6L991.2 3128.8L992.7 3129.3L994.2 3129.6L995.7 3129.4L997.2 3128.8L998.7 3128.9L1000.2 3127.9L1001.7 3126.7L1003.2 3127.6L1004.7 3126.6L1006.2 3126.0L1007.7 3126.1L1009.2 3125.2L1010.7 3123.0L1012.2 3122.8L1013.7 3124.2L1015.2 3123.3L1016.7 3122.7L1018.2 3122.3L1019.7 3122.9L1021.2 3122.7L1022.7 3122.7L1024.2 3122.9L1025.7 3122.7L1027.2 3122.3L1028.7 3122.2L1030.2 3122.9L1031.7 3122.7L1033.2 3120.9L1034.7 3120.6L1036.2 3120.4L1037.7 3119.5L1039.2 3117.9L1040.7 3118.3L1042.2 3118.2L1043.7 3117.0L1045.2 3117.7L1046.7 3117.5L1048.2 3117.8L1049.7 3118.2L1051.2 3118.7L1052.7 3118.4L1054.2 3119.1L1055.7 3118.0L1057.2 3119.0L1058.7 3117.5L1060.2 3116.2L1061.7 3115.8L1063.2 3115.8L1064.7 3114.7L1066.2 3114.8L1067.7 3114.0L1069.2 3113.6L1070.7 3111.8L1072.2 3111.5L1073.7 3113.0L1075.2 3111.6L1076.7 3112.5L1078.2 3111.1L1079.7 3111.2L1081.2 3112.2L1082.7 3111.5L1084.2 3112.7L1085.7 3111.1L1087.2 3111.1L1088.7 3111.2L1090.2 3111.1L1091.7 3111.4L1093.2 3110.7L1094.7 3109.2L1096.2 3109.9L1097.7 3108.4L1099.2 3106.7L1100.7 3106.3L1102.2 3106.4L1103.7 3106.7L1105.2 3105.8L1106.7 3106.1L1108.2 3106.6L1109.7 3104.2L1111.2 3104.4L1112.7 3104.5L1114.2 3103.5L1115.7 3104.4L1117.2 3103.2L1118.7 3103.2L1120.2 3100.8L1121.7 3101.2L1123.2 3099.3L1124.7 3099.6L1126.2 3099.2L1127.7 3097.7L1129.2 3097.4L1130.7 3098.0L1132.2 3097.9L1133.7 3097.1L1135.2 3095.9L1136.7 3095.1L1138.2 3092.2L1139.7 3091.6L1141.2 3092.6L1142.7 3091.6L1144.2 3089.9L1145.7 3088.5L1147.2 3087.8L1148.7 3087.2L1150.2 3085.7L1151.7 3085.1L1153.2 3083.9L1154.7 3083.2L1156.2 3082.5L1157.7 3081.4L1159.2 3080.9L1160.7 3079.9L1162.2 3078.9L1163.7 3078.1L1165.2 3075.8L1166.7 3073.7L1168.2 3072.4L1169.7 3072.0L1171.2 3070.9L1172.7 3069.8L1174.2 3067.9L1175.7 3067.0L1177.2 3065.9L1178.7 3063.7L1180.2 3062.6L1181.7 3060.2L1183.2 3059.5L1184.7 3058.7L1186.2 3056.3L1187.7 3054.3L1189.2 3052.6L1190.7 3049.8L1192.2 3048.0L1193.7 3045.6L1195.2 3043.1L1196.7 3040.4L1198.2 3037.9L1199.7 3035.1L1201.2 3032.8L1202.7 3030.2L1204.2 3027.7L1205.7 3025.3L1207.2 3022.7L1208.7 3020.0L1210.2 3017.2L1211.7 3015.6L1213.2 3012.7L1214.7 3009.7L1216.2 3006.9L1217.7 3004.1L1219.2 3001.6L1220.7 2998.4L1222.2 2994.9L1223.7 2991.5L1225.2 2987.8L1226.7 2983.7L1228.2 2979.9L1229.7 2975.7L1231.2 2971.6L1232.7 2967.1L1234.2 2962.9L1235.7 2958.4L1237.2 2954.4L1238.7 2950.3L1240.2 2946.5L1241.7 2942.6L1243.2 2937.8L1244.7 2933.4L1246.2 2928.6L1247.7 2923.8L1249.2 2918.9L1250.7 2913.5L1252.2 2908.5L1253.7 2903.3L1255.2 2897.8L1256.7 2892.8L1258.2 2886.6L1259.7 2880.8L1261.2 2874.6L1262.7 2869.0L1264.2 2862.8L1265.7 2857.3L1267.2 2851.1L1268.7 2845.0L1270.2 2838.6L1271.7 2832.4L1273.2 2826.0L1274.7 2819.8L1276.2 2813.4L1277.7 2807.5L1279.2 2802.3L1280.7 2797.1L1282.2 2791.9L1283.7 2786.7L1285.2 2781.6L1286.7 2777.0L1288.2 2772.6L1289.7 2768.4L1291.2 2764.6L1292.7 2760.9L1294.2 2756.8L1295.7 2754.1L1297.2 2750.1L1298.7 2748.0L1300.2 2745.0L1301.7 2742.0L1303.2 2740.2L1304.7 2738.7L1306.2 2737.1L1307.7 2735.4L1309.2 2734.0L1310.7 2732.2L1312.2 2731.5L1313.7 2730.6L1315.2 2729.6L1316.7 2729.8L1318.2 2729.0L1319.7 2729.2L1321.2 2730.2L1322.7 2732.2L1324.2 2734.8L1325.7 2737.0L1327.2 2738.9L1328.7 2741.5L1330.2 2743.7L1331.7 2746.3L1333.2 2749.3L1334.7 2753.3L1336.2 2757.4L1337.7 2761.3L1339.2 2765.9L1340.7 2770.2L1342.2 2774.9L1343.7 2779.4L1345.2 2784.6L1346.7 2789.8L1348.2 2795.0L1349.7 2800.9L1351.2 2806.8L1352.7 2812.8L1354.2 2819.6L1355.7 2826.4L1357.2 2833.7L1358.7 2840.7L1360.2 2848.4L1361.7 2856.1L1363.2 2864.0L1364.7 2872.8L1366.2 2882.0L1367.7 2890.4L1369.2 2898.4L1370.7 2906.0L1372.2 2913.6L1373.7 2920.8L1375.2 2928.2L1376.7 2935.0L1378.2 2942.2L1379.7 2948.7L1381.2 2955.2L1382.7 2961.5L1384.2 2968.2L1385.7 2973.6L1387.2 2979.6L1388.7 2985.6L1390.2 2991.5L1391.7 2997.2L1393.2 3002.9L1394.7 3007.6L1396.2 3012.0L1397.7 3016.6L1399.2 3020.9L1400.7 3025.0L1402.2 3028.7L1403.7 3032.0L1405.2 3035.6L1406.7 3039.0L1408.2 3042.2L1409.7 3045.3L1411.2 3048.3L1412.7 3050.6L1414.2 3054.2L1415.7 3057.1L1417.2 3059.9L1418.7 3062.6L1420.2 3065.1L1421.7 3068.4L1423.2 3070.9L1424.7 3073.5L1426.2 3075.2L1427.7 3077.6L1429.2 3080.1L1430.7 3082.3L1432.2 3084.7L1433.7 3086.9L1435.2 3088.9L1436.7 3090.9L1438.2 3091.9L1439.7 3093.4L1441.2 3095.0L1442.7 3097.6L1444.2 3098.0L1445.7 3100.1L1447.2 3102.3L1448.7 3104.0L1450.2 3105.8L1451.7 3107.3L1453.2 3107.9L1454.7 3109.1L1456.2 3109.7L1457.7 3111.0L1459.2 3111.9L1460.7 3113.1L1462.2 3114.4L1463.7 3114.8L1465.2 3116.4L1466.7 3117.6L1468.2 3118.6L1469.7 3119.2L1471.2 3120.4L1472.7 3121.7L1474.2 3123.1L1475.7 3124.3L1477.2 3124.4L1478.7 3125.6L1480.2 3125.0L1481.7 3126.7L1483.2 3126.1L1484.7 3128.0L1486.2 3128.7L1487.7 3130.6L1489.2 3131.5L1490.7 3131.5L1492.2 3132.4L1493.7 3133.0L1495.2 3133.4L1496.7 3133.9L1498.2 3134.3L1499.7 3136.5L1501.2 3136.8L1502.7 3138.2L1504.2 3137.9L1505.7 3138.1L1507.2 3138.4L1508.7 3138.9L1510.2 3138.8L1511.7 3139.7L1513.2 3140.8L1514.7 3141.8L1516.2 3143.0L1517.7 3143.3L1519.2 3142.4L1520.7 3143.2L1522.2 3144.0L1523.7 3144.8L1525.2 3143.8L1526.7 3144.7L1528.2 3145.9L1529.7 3146.3L1531.2 3146.3L1532.7 3145.2L1534.2 3147.8L1535.7 3147.0L1537.2 3146.1L1538.7 3147.3L1540.2 3147.5L1541.7 3149.1L1543.2 3148.8L1544.7 3148.2L1546.2 3148.1L1547.7 3150.2L1549.2 3150.4L1550.7 3150.7L1552.2 3151.5L1553.7 3151.3L1555.2 3153.1L1556.7 3151.6L1558.2 3151.3L1559.7 3153.2L1561.2 3151.1L1562.7 3152.4L1564.2 3151.0L1565.7 3151.7L1567.2 3152.4L1568.7 3151.5L1570.2 3152.4L1571.7 3152.9L1573.2 3152.7L1574.7 3152.7L1576.2 3154.3L1577.7 3155.3L1579.2 3155.7L1580.7 3156.2L1582.2 3156.6" stroke="#00f"/>
</g>
<path d="M268.0 1558.9H1586.0V3314.0H268.0ZM268.0 2435.9H1586.0" fill="none" stroke="#000" stroke-width="6" stroke-linejoin="round"/>
<path d="M268.0 2435.9h-27.0M268.0 2362.8h-14.4M268.0 2289.7h-27.0M268.0 2216.7h-14.4M268.0 2143.6h-27.0M268.0 2070.5h-14.4M268.0 1997.4h-27.0M268.0 1924.3h-14.4M268.0 1851.2h-27.0M268.0 1778.2h-14.4M268.0 1705.1h-27.0M268.0 1632.0h-14.4M268.0 1558.9h-27.0M268.0 3314.0h-27.0M268.0 3240.8h-14.4M268.0 3167.7h-27.0M268.0 3094.5h-14.4M268.0 3021.3h-27.0M268.0 2948.1h-14.4M268.0 2874.9h-27.0M268.0 2801.8h-14.4M268.0 2728.6h-27.0M268.0 2655.4h-14.4M268.0 2582.2h-27.0M268.0 2509.1h-14.4M268.0 2435.9v26.3M341.2 2435.9v13.8M414.4 2435.9v26.3M487.7 2435.9v13.8M560.9 2435.9v26.3M634.1 2435.9v13.8M707.3 2435.9v26.3M780.6 2435.9v13.8M853.8 2435.9v26.3M927.0 2435.9v13.8M1000.2 2435.9v26.3M1073.4 2435.9v13.8M1146.7 2435.9v26.3M1219.9 2435.9v13.8M1293.1 2435.9v26.3M1366.3 2435.9v13.8M1439.6 2435.9v26.3M1512.8 2435.9v13.8M1586.0 2435.9v26.3M268.0 3314.0v26.3M341.2 3314.0v13.8M414.4 3314.0v26.3M487.7 3314.0v13.8M560.9 3314.0v26.3M634.1 3314.0v13.8M707.3 3314.0v26.3M780.6 3314.0v13.8M853.8 3314.0v26.3M927.0 3314.0v13.8M1000.2 3314.0v26.3M1073.4 3314.0v13.8M1146.7 3314.0v26.3M1219.9 3314.0v13.8M1293.1 3314.0v26.3M1366.3 3314.0v13.8M1439.6 3314.0v26.3M1512.8 3314.0v13.8M1586.0 3314.0v26.3" fill="none" stroke="#000" stroke-width="6" stroke-linecap="round" stroke-linejoin="round"/>
<g filter="url(#hard)" font-family='"Liberation Sans", Arial, sans-serif' font-size="55.8" fill="#000" stroke="#000" stroke-width="1.4">
<text x="226.3" y="2450.5" text-anchor="end">20</text>
<text x="226.3" y="2304.3" text-anchor="end">40</text>
<text x="226.3" y="2158.2" text-anchor="end">60</text>
<text x="226.3" y="2012.0" text-anchor="end">80</text>
<text x="226.3" y="1865.8" text-anchor="end">100</text>
<text x="226.3" y="1719.7" text-anchor="end">120</text>
<text x="226.3" y="1573.5" text-anchor="end">140</text>
<text x="226.3" y="3328.6" text-anchor="end">20</text>
<text x="226.3" y="3182.2" text-anchor="end">40</text>
<text x="226.3" y="3035.9" text-anchor="end">60</text>
<text x="226.3" y="2889.5" text-anchor="end">80</text>
<text x="226.3" y="2743.2" text-anchor="end">100</text>
<text x="226.3" y="2596.8" text-anchor="end">120</text>
<text x="267.4" y="3399.3" text-anchor="middle">40</text>
<text x="413.8" y="3399.3" text-anchor="middle">50</text>
<text x="560.3" y="3399.3" text-anchor="middle">60</text>
<text x="706.7" y="3399.3" text-anchor="middle">70</text>
<text x="853.2" y="3399.3" text-anchor="middle">80</text>
<text x="999.6" y="3399.3" text-anchor="middle">90</text>
<text x="1146.1" y="3399.3" text-anchor="middle">100</text>
<text x="1292.5" y="3399.3" text-anchor="middle">110</text>
<text x="1439.0" y="3399.3" text-anchor="middle">120</text>
<text x="1585.4" y="3399.3" text-anchor="middle">130</text>
</g>
<g filter="url(#hard)" font-family='"Liberation Sans", Arial, sans-serif' font-size="52.7" fill="#000" stroke="#000" stroke-width="1.3">
<line x1="331.8" y1="1645.5" x2="450.7" y2="1645.5" stroke="#000" stroke-width="7" stroke-linecap="round"/>
<text x="465" y="1662.8">covNHR</text>
<line x1="331.8" y1="1710.2" x2="450.7" y2="1710.2" stroke="#f00" stroke-width="7" stroke-linecap="round"/>
<text x="465" y="1727.5">covNHR-Q13I</text>
<line x1="331.8" y1="1774.8" x2="450.7" y2="1774.8" stroke="#0f0" stroke-width="7" stroke-linecap="round"/>
<text x="465" y="1792.1">covNHR-Q23I</text>
<line x1="331.8" y1="1839.5" x2="450.7" y2="1839.5" stroke="#00f" stroke-width="7" stroke-linecap="round"/>
<text x="465" y="1856.8">covNHR-T30I</text>
<line x1="340.2" y1="2547.2" x2="459" y2="2547.2" stroke="#000" stroke-width="7" stroke-linecap="round"/>
<text x="474" y="2564.5">covNHR</text>
<line x1="340.2" y1="2612.1" x2="459" y2="2612.1" stroke="#f00" stroke-width="7" stroke-linecap="round"/>
<text x="474" y="2629.4">covNHR-Q13I</text>
<line x1="340.2" y1="2677.1" x2="459" y2="2677.1" stroke="#0f0" stroke-width="7" stroke-linecap="round"/>
<text x="474" y="2694.4">covNHR-Q23I</text>
<line x1="340.2" y1="2742.0" x2="459" y2="2742.0" stroke="#00f" stroke-width="7" stroke-linecap="round"/>
<text x="474" y="2759.3">covNHR-T30I</text>
</g>
<text x="1347.7" y="1684.5" filter="url(#hard)" font-family='"Liberation Sans", Arial, sans-serif' font-size="67" stroke="#000" stroke-width="1.2" id="ph1">pH 7.4</text>
<text x="1343.3" y="2565.7" filter="url(#hard)" font-family='"Liberation Sans", Arial, sans-serif' font-size="67" stroke="#000" stroke-width="1.2" textLength="201.4" lengthAdjust="spacing" id="ph2">pH 2.5</text>
<text transform="translate(88 2282.5) rotate(-90)" filter="url(#hard)" font-family='"Liberation Sans", Arial, sans-serif' font-size="68.5" stroke="#000" stroke-width="1.2" textLength="465.3" lengthAdjust="spacing" id="ylabB1">C<tspan font-size="40.5" dy="23">p</tspan><tspan dy="-23"> (kJ K</tspan><tspan font-size="42" dy="-33">-1</tspan><tspan dy="33"> mol</tspan><tspan font-size="42" dy="-33">-1</tspan><tspan dy="33">)</tspan></text>
<text transform="translate(104 3159.5) rotate(-90)" filter="url(#hard)" font-family='"Liberation Sans", Arial, sans-serif' font-size="68.5" stroke="#000" stroke-width="1.2" textLength="466.6" lengthAdjust="spacing" id="ylabB2">C<tspan font-size="40.5" dy="23">p</tspan><tspan dy="-23"> (kJ K</tspan><tspan font-size="42" dy="-33">-1</tspan><tspan dy="33"> mol</tspan><tspan font-size="42" dy="-33">-1</tspan><tspan dy="33">)</tspan></text>
<text x="664.4" y="3505" filter="url(#hard)" font-family='"Liberation Sans", Arial, sans-serif' font-size="69.5" stroke="#000" stroke-width="1.2" textLength="527" lengthAdjust="spacing" id="xlabB">Temperature (ºC)</text>
<text y="3720" filter="url(#hard)" font-family='"Liberation Serif", "Times New Roman", serif' id="capB"><tspan x="828.6" font-size="85" dy="0">(</tspan><tspan x="855.5" font-size="90" dy="0" font-weight="bold">b</tspan><tspan x="906" font-size="85" dy="0">)</tspan></text>
</svg>
</body></html>
